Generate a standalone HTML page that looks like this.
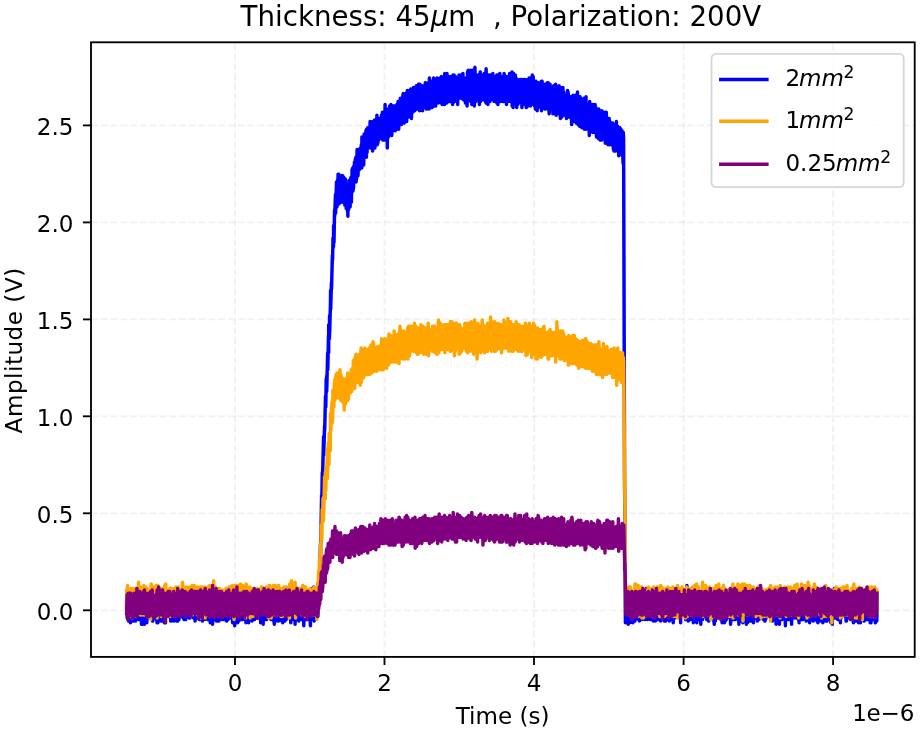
<!DOCTYPE html>
<html><head><meta charset="utf-8"><title>Thickness: 45μm, Polarization: 200V</title>
<style>html,body{margin:0;padding:0;background:#fff}svg{display:block}</style></head>
<body>
<svg width="920" height="731" viewBox="0 0 920 731">
<rect width="920" height="731" fill="#fff"/>
<g stroke="#b0b0b0" stroke-opacity="0.18" stroke-width="1.85" stroke-dasharray="6.83 2.95" fill="none">
<path d="M235.0 656.9V42.3"/>
<path d="M384.5 656.9V42.3"/>
<path d="M534.0 656.9V42.3"/>
<path d="M683.6 656.9V42.3"/>
<path d="M833.1 656.9V42.3"/>
<path d="M91.0 610.3H914.7"/>
<path d="M91.0 513.3H914.7"/>
<path d="M91.0 416.3H914.7"/>
<path d="M91.0 319.4H914.7"/>
<path d="M91.0 222.4H914.7"/>
<path d="M91.0 125.4H914.7"/>
</g>
<clipPath id="c"><rect x="91.0" y="42.3" width="823.7" height="614.6"/></clipPath>
<g clip-path="url(#c)" fill="none" stroke-width="3.46" stroke-linejoin="round" stroke-linecap="square">
<path stroke="#0000ff" d="M126.6,607.2 126.8,591.6 127.2,618.0 127.5,610.3 127.6,611.8 128.4,593.2 128.5,621.1 128.6,604.1 128.9,616.5 129.5,593.2 129.6,618.0 129.7,590.1 130.4,622.7 130.5,604.1 130.6,602.5 130.7,616.5 130.9,591.6 131.5,602.5 131.6,607.2 131.9,597.8 132.4,621.1 132.5,602.5 132.6,616.5 132.9,596.3 133.5,621.1 133.6,613.4 133.7,599.4 133.8,616.5 134.5,611.8 134.6,610.3 135.2,591.6 135.4,621.1 135.5,614.9 135.6,605.6 136.2,596.3 136.5,616.5 136.5,599.4 136.6,611.8 136.7,588.5 137.1,614.9 137.5,602.5 137.6,613.4 138.0,596.3 138.1,619.6 138.5,605.6 138.6,611.8 138.7,619.6 139.2,599.4 139.5,607.2 139.6,604.1 139.7,618.0 140.4,590.1 140.5,610.3 140.6,614.9 141.2,590.1 141.5,624.2 141.6,610.3 141.7,618.0 142.4,599.4 142.5,610.3 142.6,624.2 143.1,591.6 143.5,611.8 143.6,610.3 143.7,596.3 144.4,624.2 144.5,596.3 144.6,605.6 144.9,619.6 145.0,594.7 145.5,607.2 145.6,608.7 145.7,594.7 145.9,618.0 146.5,614.9 146.6,608.7 146.7,593.2 146.8,622.7 147.6,601.0 147.6,604.1 147.7,599.4 148.4,616.5 148.6,602.5 148.6,604.1 148.7,614.9 149.2,597.8 149.6,605.6 149.6,614.9 150.4,594.7 150.6,594.7 150.6,613.4 150.9,618.0 151.2,594.7 151.6,614.9 151.6,596.3 152.2,591.6 152.4,621.1 152.6,614.9 152.6,597.8 152.8,621.1 153.6,608.7 153.6,601.0 153.9,616.5 154.6,588.5 154.6,601.0 154.8,591.6 155.2,614.9 155.6,596.3 155.6,614.9 156.4,590.1 156.4,619.6 156.6,604.1 156.6,601.0 157.0,622.7 157.6,591.6 157.6,597.8 157.9,622.7 158.6,608.7 158.6,602.5 158.9,593.2 159.2,614.9 159.6,604.1 159.6,611.8 160.2,588.5 160.2,618.0 160.6,596.3 160.6,596.3 161.1,621.1 161.6,618.0 161.6,618.0 161.7,621.1 161.8,596.3 162.6,614.9 162.6,602.5 162.8,611.8 163.5,590.1 163.6,610.3 163.6,608.7 163.7,597.8 164.2,622.7 164.6,616.5 164.6,610.3 165.4,590.1 165.5,622.7 165.6,608.7 165.6,597.8 165.9,596.3 166.0,616.5 166.6,607.2 166.6,601.0 166.7,593.2 167.4,614.9 167.6,597.8 167.6,613.4 168.4,591.6 168.6,601.0 168.6,613.4 169.4,614.9 169.6,594.7 169.6,601.0 170.4,588.5 170.4,618.0 170.6,601.0 170.6,618.0 170.8,621.1 171.6,594.7 171.6,604.1 172.1,614.9 172.3,591.6 172.6,611.8 172.6,608.7 172.9,619.6 173.3,591.6 173.6,596.3 173.6,621.1 174.5,590.1 174.6,594.7 174.6,618.0 174.7,594.7 175.6,594.7 175.6,599.4 176.4,619.6 176.6,593.2 176.6,621.1 177.3,593.2 177.6,610.3 177.6,619.6 177.8,621.1 177.9,594.7 178.6,604.1 178.6,599.4 178.7,596.3 178.9,619.6 179.6,599.4 179.6,613.4 179.9,616.5 179.9,599.4 180.6,613.4 180.6,608.7 181.0,616.5 181.3,593.2 181.6,604.1 181.6,614.9 181.9,616.5 182.0,594.7 182.6,599.4 182.6,607.2 183.2,618.0 183.4,593.2 183.6,613.4 183.6,610.3 184.1,619.6 184.6,593.2 184.6,605.6 184.9,591.6 185.3,614.9 185.6,604.1 185.6,619.6 186.0,594.7 186.6,611.8 186.6,604.1 186.8,614.9 187.1,594.7 187.6,611.8 187.6,613.4 187.9,614.9 188.0,597.8 188.6,607.2 188.6,605.6 189.0,618.0 189.0,594.7 189.6,611.8 189.6,602.5 189.8,596.3 189.9,618.0 190.6,616.5 190.6,601.0 190.8,596.3 191.1,614.9 191.6,605.6 191.6,605.6 191.7,613.4 192.4,590.1 192.6,596.3 192.6,604.1 192.7,616.5 193.0,596.3 193.6,607.2 193.6,618.0 194.5,594.7 194.6,611.8 194.6,605.6 195.1,621.1 195.3,593.2 195.6,611.8 195.6,614.9 195.7,618.0 196.6,591.6 196.6,618.0 197.3,591.6 197.6,602.5 197.6,610.3 198.3,618.0 198.5,591.6 198.6,616.5 198.6,610.3 198.9,597.8 199.2,619.6 199.6,613.4 199.6,604.1 200.5,588.5 200.6,618.0 200.6,593.2 201.4,618.0 201.6,596.3 201.6,607.2 201.8,596.3 202.4,621.1 202.6,599.4 202.6,601.0 202.8,619.6 203.3,591.6 203.6,604.1 203.6,597.8 203.7,619.6 204.4,596.3 204.6,616.5 204.6,608.7 204.7,619.6 205.1,590.1 205.6,613.4 205.6,599.4 205.8,616.5 206.6,610.3 206.6,607.2 206.8,616.5 207.1,594.7 207.6,607.2 207.6,616.5 207.7,619.6 208.2,591.6 208.6,613.4 208.7,613.4 208.9,597.8 209.3,619.6 209.6,601.0 209.7,608.7 210.2,622.7 210.3,597.8 210.6,597.8 210.7,605.6 210.8,621.1 211.0,596.3 211.6,601.0 211.7,593.2 212.6,624.2 212.7,607.2 212.8,596.3 213.3,618.0 213.6,604.1 213.7,610.3 213.9,619.6 214.3,593.2 214.6,599.4 214.7,602.5 214.9,618.0 215.4,593.2 215.6,618.0 215.7,596.3 216.5,621.1 216.6,596.3 216.7,618.0 216.9,619.6 217.2,599.4 217.6,604.1 217.7,597.8 217.8,621.1 218.2,596.3 218.6,602.5 218.7,608.7 219.0,621.1 219.0,597.8 219.6,616.5 219.7,604.1 220.3,610.3 220.5,594.7 220.6,601.0 220.7,602.5 220.9,618.0 221.6,596.3 221.7,618.0 222.2,619.6 222.2,591.6 222.6,610.3 222.7,607.2 222.8,593.2 222.9,613.4 223.6,607.2 223.7,614.9 223.7,619.6 224.3,594.7 224.6,596.3 224.7,616.5 224.8,618.0 225.3,599.4 225.6,607.2 225.7,602.5 226.3,593.2 226.5,621.1 226.6,621.1 226.7,614.9 226.8,596.3 227.2,619.6 227.6,618.0 227.7,610.3 228.0,619.6 228.4,594.7 228.5,604.1 228.6,602.5 228.8,594.7 229.2,613.4 229.5,608.7 229.6,607.2 230.0,618.0 230.2,596.3 230.5,610.3 230.6,608.7 230.8,614.9 231.4,587.0 231.5,614.9 231.6,604.1 231.7,596.3 232.1,618.0 232.5,596.3 232.6,622.7 233.1,594.7 233.5,604.1 233.6,605.6 234.2,621.1 234.3,601.0 234.5,604.1 234.6,599.4 234.7,625.8 235.2,587.0 235.5,605.6 235.6,599.4 236.0,618.0 236.4,594.7 236.5,602.5 236.6,593.2 237.1,614.9 237.5,611.8 237.6,596.3 237.7,622.7 237.9,594.7 238.5,605.6 238.6,594.7 238.7,621.1 239.2,593.2 239.5,608.7 239.6,601.0 240.3,594.7 240.5,619.6 240.6,604.1 241.0,619.6 241.4,590.1 241.5,616.5 241.6,602.5 242.0,599.4 242.3,619.6 242.5,611.8 242.6,605.6 243.0,593.2 243.3,614.9 243.5,604.1 243.6,591.6 244.0,618.0 244.5,613.4 244.6,593.2 245.0,619.6 245.5,591.6 245.6,610.3 245.9,622.7 246.0,596.3 246.5,601.0 246.6,610.3 246.7,614.9 247.5,594.7 247.6,610.3 248.1,618.0 248.6,597.8 248.6,622.7 249.1,599.4 249.6,601.0 249.6,597.8 250.4,619.6 250.5,590.1 250.6,608.7 250.6,611.8 250.7,590.1 251.0,614.9 251.6,597.8 251.6,610.3 252.1,621.1 252.2,596.3 252.6,607.2 252.6,605.6 252.8,596.3 253.1,619.6 253.6,608.7 253.6,616.5 253.9,596.3 254.6,619.6 254.6,604.1 254.8,593.2 255.1,616.5 255.6,611.8 255.6,605.6 255.9,601.0 256.0,618.0 256.6,611.8 256.6,605.6 256.8,618.0 257.5,593.2 257.6,602.5 257.6,605.6 257.8,618.0 258.2,596.3 258.6,611.8 258.6,618.0 259.6,590.1 259.6,596.3 260.2,614.9 260.6,608.7 260.6,622.7 261.4,599.4 261.6,607.2 261.6,614.9 262.2,621.1 262.3,597.8 262.6,608.7 262.6,601.0 263.2,624.2 263.3,594.7 263.6,597.8 263.6,604.1 264.2,590.1 264.4,619.6 264.6,614.9 264.6,607.2 264.8,597.8 265.5,619.6 265.6,611.8 265.6,613.4 266.4,594.7 266.6,618.0 266.6,604.1 266.7,619.6 267.2,594.7 267.6,604.1 267.6,593.2 268.1,616.5 268.6,593.2 268.6,602.5 268.7,596.3 268.9,616.5 269.6,611.8 269.6,608.7 270.4,616.5 270.6,596.3 270.6,607.2 270.7,599.4 270.9,619.6 271.6,611.8 271.6,614.9 271.7,596.3 272.5,618.0 272.6,614.9 272.6,607.2 273.0,619.6 273.3,593.2 273.6,613.4 273.6,616.5 274.3,624.2 274.5,594.7 274.6,604.1 274.6,602.5 274.8,614.9 275.6,599.4 275.6,611.8 275.9,618.0 276.4,593.2 276.6,596.3 276.6,611.8 277.1,593.2 277.6,621.1 277.6,601.0 277.8,597.8 278.5,621.1 278.6,601.0 278.6,599.4 278.8,594.7 279.1,619.6 279.6,596.3 279.6,602.5 279.7,597.8 280.3,618.0 280.6,610.3 280.6,613.4 280.9,618.0 281.2,594.7 281.6,614.9 281.6,610.3 281.8,621.1 282.6,597.8 282.6,618.0 282.7,622.7 282.8,597.8 283.6,613.4 283.6,605.6 283.7,619.6 284.1,596.3 284.6,616.5 284.6,608.7 284.7,593.2 284.8,621.1 285.6,610.3 285.6,614.9 285.8,596.3 286.1,619.6 286.6,602.5 286.6,610.3 287.0,616.5 287.1,596.3 287.6,596.3 287.6,602.5 288.1,591.6 288.6,610.3 288.6,602.5 288.7,596.3 288.9,616.5 289.6,616.5 289.6,604.1 289.8,596.3 290.4,619.6 290.6,596.3 290.6,611.8 290.8,622.7 291.3,599.4 291.6,616.5 291.6,608.7 291.7,596.3 292.0,619.6 292.6,613.4 292.6,613.4 293.0,591.6 293.0,616.5 293.6,604.1 293.6,613.4 293.8,596.3 294.6,607.2 294.6,611.8 295.1,624.2 295.2,591.6 295.6,605.6 295.6,601.0 295.8,597.8 296.2,619.6 296.6,611.8 296.6,597.8 297.0,619.6 297.3,596.3 297.6,601.0 297.6,601.0 297.8,619.6 298.6,591.6 298.6,607.2 298.7,621.1 299.1,596.3 299.6,607.2 299.6,616.5 299.7,593.2 299.8,618.0 300.6,596.3 300.6,616.5 301.1,596.3 301.2,619.6 301.6,616.5 301.6,614.9 302.1,619.6 302.5,594.7 302.6,605.6 302.6,619.6 302.9,599.4 303.6,608.7 303.6,611.8 303.8,625.8 304.1,594.7 304.6,614.9 304.6,613.4 304.8,594.7 305.5,619.6 305.6,611.8 305.6,594.7 306.4,619.6 306.6,610.3 306.6,616.5 307.0,594.7 307.5,619.6 307.6,599.4 307.6,604.1 308.1,597.8 308.2,618.0 308.6,611.8 308.6,618.0 309.4,594.7 309.6,614.9 309.7,607.2 310.4,625.8 310.6,593.2 310.7,610.3 311.1,618.0 311.2,594.7 311.6,618.0 311.7,619.6 311.8,588.5 312.6,593.2 312.7,608.7 312.8,593.2 313.3,614.9 313.6,597.8 313.7,596.3 313.7,587.0 314.2,621.1 314.6,593.2 314.7,594.7 314.7,618.0 315.5,591.6 315.6,597.8 315.7,602.5 316.4,618.0 316.5,596.3 316.6,597.8 316.7,618.0 316.8,596.3 317.6,597.8 317.7,602.5 317.9,616.5 318.4,582.3 318.6,599.4 318.7,587.0 318.7,605.6 319.5,573.0 319.6,583.9 319.7,580.8 320.5,543.5 320.6,556.0 320.7,537.3 320.8,543.5 321.6,495.4 321.7,507.9 322.3,472.2 322.6,483.0 322.7,469.1 322.7,470.6 323.6,436.5 323.7,455.1 324.6,425.6 324.7,430.3 325.5,396.2 325.6,405.5 325.7,403.9 325.8,407.0 326.2,379.1 326.6,386.8 326.7,376.0 326.7,391.5 327.6,355.8 327.7,352.7 327.8,369.8 328.5,335.6 328.6,351.2 328.7,352.7 328.7,324.8 329.5,338.7 329.6,315.5 329.7,332.5 330.5,301.5 330.6,290.6 330.7,309.3 331.4,282.9 331.5,289.1 331.6,286.0 332.4,255.0 332.5,259.6 332.6,259.6 333.0,237.9 333.5,247.2 333.6,225.5 334.0,242.5 334.5,213.1 334.6,210.0 334.7,216.2 335.5,194.5 335.6,213.1 336.5,182.0 336.6,200.7 337.0,206.9 337.4,180.5 337.5,183.6 337.6,196.0 338.1,174.3 338.4,202.2 338.5,186.7 338.6,194.5 338.9,174.3 339.1,203.8 339.5,200.7 339.6,194.5 339.7,202.2 340.0,175.8 340.5,180.5 340.6,185.1 341.0,202.2 341.5,175.8 341.6,182.0 342.0,175.8 342.2,200.7 342.5,185.1 342.6,192.9 342.8,175.8 342.9,202.2 343.5,196.0 343.6,200.7 343.8,177.4 344.5,180.5 344.6,180.5 344.8,205.3 345.4,178.9 345.5,191.3 345.6,194.5 345.8,185.1 346.2,208.4 346.5,188.2 346.6,208.4 347.2,185.1 347.5,211.5 347.5,202.2 347.6,205.3 347.9,216.2 348.0,185.1 348.5,210.0 348.6,194.5 348.9,206.9 349.0,180.5 349.5,203.8 349.6,197.6 350.0,183.6 350.1,206.9 350.6,183.6 350.6,188.2 350.9,177.4 351.4,202.2 351.6,180.5 351.6,194.5 352.1,169.6 352.6,182.0 352.6,185.1 352.7,168.1 352.9,191.3 353.6,186.7 353.6,166.5 353.7,183.6 354.5,161.9 354.6,166.5 354.6,175.8 354.7,182.0 355.4,158.8 355.6,160.3 355.6,171.2 355.9,157.2 356.1,182.0 356.6,174.3 356.6,178.9 357.1,149.5 357.6,169.6 357.6,155.7 358.0,175.8 358.6,151.0 358.6,152.6 359.2,149.5 359.4,169.6 359.6,158.8 359.6,152.6 360.1,168.1 360.3,147.9 360.6,160.3 360.6,152.6 361.2,166.5 361.3,144.8 361.6,155.7 361.6,149.5 361.8,168.1 361.9,137.0 362.6,161.9 362.6,149.5 362.7,137.0 363.0,165.0 363.6,144.8 363.6,158.8 363.7,165.0 364.2,133.9 364.6,141.7 364.6,138.6 364.7,154.1 365.4,135.5 365.6,154.1 365.6,144.8 365.9,130.8 366.4,157.2 366.6,149.5 366.6,129.3 367.0,152.6 367.6,138.6 367.6,137.0 367.7,127.7 368.4,147.9 368.6,144.8 368.6,140.1 369.0,127.7 369.2,146.4 369.6,140.1 369.6,144.8 370.1,121.5 370.6,147.9 370.6,144.8 370.8,147.9 371.1,124.6 371.6,127.7 371.6,133.9 372.1,126.2 372.6,151.0 372.6,135.5 372.8,121.5 372.9,146.4 373.6,140.1 373.6,123.1 373.9,121.5 373.9,143.3 374.6,133.9 374.6,120.0 374.9,147.9 375.6,126.2 375.6,137.0 376.2,123.1 376.5,143.3 376.6,129.3 376.6,133.9 376.9,115.3 377.1,144.8 377.6,133.9 377.6,132.4 377.9,143.3 377.9,121.5 378.6,137.0 378.6,126.2 378.7,140.1 378.9,118.4 379.6,129.3 379.6,123.1 380.4,138.6 380.5,120.0 380.6,120.0 380.6,118.4 380.7,135.5 381.4,115.3 381.6,124.6 381.6,120.0 382.4,112.2 382.6,138.6 382.6,126.2 382.9,140.1 383.5,118.4 383.6,130.8 383.6,133.9 383.7,116.9 384.2,140.1 384.6,116.9 384.6,118.4 384.7,138.6 385.1,104.5 385.6,138.6 385.6,129.3 385.8,110.7 386.6,137.0 386.6,124.6 386.8,109.1 387.3,147.9 387.6,126.2 387.6,124.6 388.4,112.2 388.6,137.0 388.6,118.4 389.0,135.5 389.5,109.1 389.6,132.4 389.6,106.0 390.6,133.9 390.6,129.3 390.9,104.5 391.0,130.8 391.6,109.1 391.6,115.3 391.8,135.5 392.6,110.7 392.6,118.4 393.0,130.8 393.3,106.0 393.6,123.1 393.6,106.0 393.7,129.3 394.6,121.5 394.6,124.6 395.0,106.0 395.1,130.8 395.6,123.1 395.6,123.1 395.8,126.2 396.1,107.6 396.6,124.6 396.6,115.3 396.9,104.5 397.1,129.3 397.6,115.3 397.6,106.0 397.7,123.1 398.1,101.4 398.6,118.4 398.6,112.2 398.7,129.3 399.5,101.4 399.6,109.1 399.6,112.2 399.9,121.5 400.3,98.3 400.6,102.9 400.6,109.1 400.8,99.8 401.5,124.6 401.6,101.4 401.6,118.4 402.0,99.8 402.1,123.1 402.6,116.9 402.6,98.3 403.2,93.6 403.5,118.4 403.6,98.3 403.6,96.7 404.3,123.1 404.5,95.2 404.6,98.3 404.6,104.5 405.0,121.5 405.3,93.6 405.6,99.8 405.6,93.6 406.0,120.0 406.6,112.2 406.6,101.4 406.7,121.5 407.3,90.5 407.6,112.2 407.6,102.9 408.0,98.3 408.1,115.3 408.6,112.2 408.6,96.7 409.3,116.9 409.5,90.5 409.6,98.3 409.6,104.5 409.8,90.5 410.4,113.8 410.6,93.6 410.7,92.1 410.7,88.9 411.5,118.4 411.6,102.9 411.7,113.8 412.2,90.5 412.6,112.2 412.7,90.5 412.8,112.2 413.4,87.4 413.6,99.8 413.7,96.7 413.8,90.5 414.3,110.7 414.6,95.2 414.7,109.1 414.8,110.7 415.3,90.5 415.6,101.4 415.7,106.0 416.3,85.8 416.6,109.1 416.7,107.6 416.9,109.1 417.1,85.8 417.6,90.5 417.7,107.6 417.8,109.1 418.5,84.3 418.6,102.9 418.7,85.8 419.2,84.3 419.5,110.7 419.6,88.9 419.7,93.6 420.0,84.3 420.2,106.0 420.6,106.0 420.7,99.8 421.1,109.1 421.2,85.8 421.6,98.3 421.7,98.3 421.8,85.8 422.6,110.7 422.7,102.9 423.1,88.9 423.6,96.7 423.7,93.6 423.8,85.8 424.3,107.6 424.6,102.9 424.7,102.9 424.8,106.0 425.3,82.7 425.6,88.9 425.7,82.7 426.5,109.1 426.6,104.5 426.7,101.4 427.2,85.8 427.5,107.6 427.6,90.5 427.7,90.5 427.9,101.4 428.4,82.7 428.6,92.1 428.7,93.6 429.1,109.1 429.4,78.1 429.6,90.5 429.7,101.4 429.8,82.7 429.9,104.5 430.6,98.3 430.7,102.9 431.1,82.7 431.5,95.2 431.6,81.2 432.1,107.6 432.5,99.8 432.6,92.1 432.8,82.7 433.5,104.5 433.5,99.8 433.6,78.1 434.4,106.0 434.5,96.7 434.6,101.4 434.8,106.0 435.2,81.2 435.5,90.5 435.6,85.8 435.7,106.0 436.2,79.6 436.5,88.9 436.6,95.2 437.0,101.4 437.0,78.1 437.5,81.2 437.6,90.5 438.1,81.2 438.2,102.9 438.5,82.7 438.6,96.7 438.7,101.4 439.2,82.7 439.5,92.1 439.6,81.2 439.9,101.4 440.0,78.1 440.5,90.5 440.6,81.2 441.0,102.9 441.4,76.5 441.5,82.7 441.6,88.9 441.9,79.6 442.1,104.5 442.5,93.6 442.6,98.3 442.9,101.4 443.4,78.1 443.5,93.6 443.6,102.9 443.9,78.1 444.5,81.2 444.6,104.5 444.7,73.4 445.5,84.3 445.6,84.3 445.7,102.9 445.9,78.1 446.5,82.7 446.6,79.6 446.8,102.9 447.0,73.4 447.5,93.6 447.6,88.9 447.7,78.1 448.0,99.8 448.5,92.1 448.6,95.2 448.8,101.4 449.0,82.7 449.5,98.3 449.6,98.3 449.7,101.4 450.0,76.5 450.5,93.6 450.6,87.4 450.7,101.4 451.1,78.1 451.6,90.5 451.6,95.2 452.3,76.5 452.6,104.5 452.6,84.3 453.0,75.0 453.2,102.9 453.6,101.4 453.6,85.8 454.1,75.0 454.6,101.4 454.6,87.4 455.3,99.8 455.4,76.5 455.6,88.9 455.6,90.5 455.8,93.6 456.0,78.1 456.6,85.8 456.6,79.6 457.2,99.8 457.3,78.1 457.6,79.6 457.6,84.3 457.7,104.5 457.8,79.6 458.6,85.8 458.6,98.3 459.0,75.0 459.6,93.6 459.6,90.5 459.9,96.7 460.2,78.1 460.6,81.2 460.6,79.6 460.9,98.3 461.1,75.0 461.6,85.8 461.6,82.7 461.7,98.3 462.4,76.5 462.6,82.7 462.6,96.7 462.9,73.4 463.3,99.8 463.6,82.7 463.6,92.1 464.2,78.1 464.3,99.8 464.6,84.3 464.6,92.1 464.8,79.6 465.4,102.9 465.6,81.2 465.6,96.7 465.9,78.1 466.1,98.3 466.6,93.6 466.6,95.2 467.1,106.0 467.5,71.9 467.6,87.4 467.6,98.3 468.1,70.3 468.6,92.1 468.6,96.7 469.4,99.8 469.6,79.6 469.6,78.1 470.4,75.0 470.6,101.4 470.6,87.4 470.7,70.3 471.2,99.8 471.6,79.6 471.6,90.5 471.8,104.5 472.3,73.4 472.6,96.7 472.6,79.6 472.7,70.3 473.5,101.4 473.6,85.8 473.6,78.1 474.3,106.0 474.6,99.8 474.6,92.1 474.8,101.4 474.9,67.2 475.6,90.5 475.6,81.2 475.9,101.4 476.5,75.0 476.6,84.3 476.6,95.2 477.0,98.3 477.3,79.6 477.6,88.9 477.6,75.0 478.4,95.2 478.6,82.7 478.6,87.4 479.1,75.0 479.4,104.5 479.6,93.6 479.6,76.5 480.3,71.9 480.4,98.3 480.6,90.5 480.6,101.4 481.3,78.1 481.6,98.3 481.6,96.7 481.9,98.3 482.0,75.0 482.6,93.6 482.6,76.5 482.7,99.8 483.6,82.7 483.6,92.1 483.9,99.8 484.3,73.4 484.6,96.7 484.6,81.2 485.3,78.1 485.6,101.4 485.6,101.4 486.1,102.9 486.1,68.8 486.6,84.3 486.6,88.9 486.9,76.5 487.3,98.3 487.6,87.4 487.6,81.2 487.8,76.5 487.9,104.5 488.6,92.1 488.6,79.6 488.8,75.0 489.2,99.8 489.6,88.9 489.6,90.5 489.8,75.0 490.0,101.4 490.6,88.9 490.6,85.8 490.8,98.3 491.2,75.0 491.6,95.2 491.6,90.5 491.8,75.0 492.5,98.3 492.6,84.3 492.6,92.1 492.7,99.8 492.8,73.4 493.6,95.2 493.6,96.7 494.0,76.5 494.1,101.4 494.6,90.5 494.6,82.7 494.7,79.6 494.8,99.8 495.6,87.4 495.6,93.6 496.1,76.5 496.3,96.7 496.6,95.2 496.6,84.3 496.7,75.0 496.9,102.9 497.6,93.6 497.6,93.6 497.9,104.5 498.1,75.0 498.6,99.8 498.6,82.7 499.3,75.0 499.5,101.4 499.6,90.5 499.6,87.4 499.8,73.4 500.3,101.4 500.6,81.2 500.6,84.3 501.0,99.8 501.2,81.2 501.6,82.7 501.6,82.7 502.0,79.6 502.6,101.4 502.6,99.8 502.7,76.5 503.6,85.8 503.6,85.8 503.9,101.4 504.1,73.4 504.6,81.2 504.6,87.4 504.8,99.8 504.8,78.1 505.6,81.2 505.6,81.2 506.5,104.5 506.6,78.1 506.6,76.5 506.8,101.4 507.6,82.7 507.6,95.2 507.7,101.4 508.3,81.2 508.6,84.3 508.6,85.8 509.1,99.8 509.6,73.4 509.6,79.6 510.3,101.4 510.6,93.6 510.6,98.3 511.1,101.4 511.2,76.5 511.6,84.3 511.6,81.2 512.0,71.9 512.2,106.0 512.6,76.5 512.7,81.2 512.8,78.1 513.1,107.6 513.6,85.8 513.7,73.4 513.8,96.7 514.6,84.3 514.7,102.9 515.3,75.0 515.6,82.7 515.7,81.2 516.1,78.1 516.6,99.8 516.7,87.4 516.7,107.6 517.6,79.6 517.7,92.1 517.8,104.5 518.5,82.7 518.6,85.8 518.7,95.2 518.8,101.4 519.0,81.2 519.6,87.4 519.7,95.2 519.9,101.4 520.1,79.6 520.6,98.3 520.7,85.8 520.8,102.9 521.2,79.6 521.6,88.9 521.7,92.1 521.8,79.6 521.9,107.6 522.6,81.2 522.7,98.3 522.8,81.2 523.3,104.5 523.6,81.2 523.7,85.8 523.8,102.9 524.0,79.6 524.6,82.7 524.7,99.8 524.9,104.5 525.5,84.3 525.6,92.1 525.7,87.4 525.8,79.6 526.2,107.6 526.6,84.3 526.7,101.4 527.3,82.7 527.5,104.5 527.6,99.8 527.7,87.4 528.2,106.0 528.3,79.6 528.6,95.2 528.7,85.8 529.1,78.1 529.2,104.5 529.6,99.8 529.7,96.7 530.2,78.1 530.5,106.0 530.6,90.5 530.7,102.9 531.1,81.2 531.6,96.7 531.7,99.8 531.8,104.5 532.3,75.0 532.5,98.3 532.6,95.2 532.7,102.9 533.2,76.5 533.5,84.3 533.6,93.6 534.0,81.2 534.5,106.0 534.5,99.8 534.6,90.5 534.7,82.7 535.4,109.1 535.5,92.1 535.6,82.7 535.9,81.2 536.2,106.0 536.5,96.7 536.6,92.1 536.9,84.3 537.2,110.7 537.5,92.1 537.6,92.1 538.0,82.7 538.1,107.6 538.5,82.7 538.6,92.1 539.0,84.3 539.2,106.0 539.5,104.5 539.6,98.3 539.7,104.5 539.9,84.3 540.5,84.3 540.6,96.7 541.4,81.2 541.5,110.7 541.6,104.5 542.1,81.2 542.5,106.0 542.6,96.7 542.8,87.4 542.9,106.0 543.5,96.7 543.6,88.9 543.7,84.3 544.0,104.5 544.5,104.5 544.6,85.8 544.8,109.1 544.9,84.3 545.5,88.9 545.6,93.6 545.7,109.1 545.9,85.8 546.5,106.0 546.6,87.4 546.7,104.5 547.2,82.7 547.5,92.1 547.6,95.2 548.2,82.7 548.4,109.1 548.5,95.2 548.6,106.0 549.2,113.8 549.3,87.4 549.5,110.7 549.6,104.5 550.1,84.3 550.5,98.3 550.6,87.4 551.4,104.5 551.5,102.9 551.6,87.4 552.4,109.1 552.6,104.5 552.6,92.1 552.9,113.8 553.1,87.4 553.6,90.5 553.6,106.0 553.7,85.8 553.7,112.2 554.6,93.6 554.6,101.4 555.3,113.8 555.6,84.3 555.6,93.6 556.1,85.8 556.1,115.3 556.6,107.6 556.6,104.5 557.1,87.4 557.4,110.7 557.6,99.8 557.6,110.7 557.7,112.2 558.1,90.5 558.6,98.3 558.6,113.8 559.1,85.8 559.6,88.9 559.6,96.7 560.4,118.4 560.5,88.9 560.6,93.6 560.6,107.6 560.7,87.4 560.9,113.8 561.6,110.7 561.6,109.1 561.9,116.9 561.9,92.1 562.6,98.3 562.6,110.7 562.9,87.4 563.2,112.2 563.6,110.7 563.6,99.8 563.9,92.1 564.3,113.8 564.6,107.6 564.6,107.6 565.0,115.3 565.4,95.2 565.6,104.5 565.6,99.8 566.2,95.2 566.5,118.4 566.6,99.8 566.6,98.3 567.5,115.3 567.6,90.5 567.6,99.8 568.1,92.1 568.2,116.9 568.6,115.3 568.6,95.2 568.9,116.9 569.6,102.9 569.6,107.6 570.1,116.9 570.3,96.7 570.6,102.9 570.6,113.8 570.9,101.4 571.2,118.4 571.6,113.8 571.6,124.6 572.1,96.7 572.6,104.5 572.6,112.2 573.0,95.2 573.4,115.3 573.6,107.6 573.6,107.6 573.7,99.8 574.1,121.5 574.6,107.6 574.6,112.2 574.9,121.5 575.5,95.2 575.6,120.0 575.6,99.8 576.4,123.1 576.5,95.2 576.6,106.0 576.6,101.4 576.8,120.0 577.5,92.1 577.6,104.5 577.6,113.8 577.7,95.2 578.2,124.6 578.6,115.3 578.6,109.1 579.1,124.6 579.4,99.8 579.6,112.2 579.6,126.2 580.0,96.7 580.6,99.8 580.6,109.1 581.2,123.1 581.6,99.8 581.6,126.2 582.0,127.7 582.4,99.8 582.6,107.6 582.6,110.7 583.1,124.6 583.3,101.4 583.6,101.4 583.6,121.5 583.8,98.3 584.4,129.3 584.6,120.0 584.6,109.1 584.9,126.2 585.2,106.0 585.6,109.1 585.6,121.5 586.0,96.7 586.2,129.3 586.6,116.9 586.6,109.1 587.0,104.5 587.3,127.7 587.6,112.2 587.6,104.5 588.2,123.1 588.6,113.8 588.6,127.7 588.7,106.0 589.3,135.5 589.6,113.8 589.6,106.0 589.7,101.4 589.9,130.8 590.6,120.0 590.6,116.9 591.1,127.7 591.2,104.5 591.6,115.3 591.6,120.0 591.7,130.8 592.3,110.7 592.6,113.8 592.6,130.8 592.7,132.4 593.1,104.5 593.6,109.1 593.6,107.6 594.0,106.0 594.0,129.3 594.6,116.9 594.6,112.2 594.8,132.4 595.1,104.5 595.6,129.3 595.6,112.2 595.9,107.6 596.5,137.0 596.6,126.2 596.6,109.1 597.2,133.9 597.6,124.6 597.6,129.3 597.7,112.2 598.4,138.6 598.6,120.0 598.6,121.5 598.8,109.1 598.9,129.3 599.6,115.3 599.6,133.9 600.1,140.1 600.6,112.2 600.6,118.4 600.7,135.5 600.8,112.2 601.6,126.2 601.6,123.1 601.8,140.1 601.8,110.7 602.6,129.3 602.6,127.7 602.8,115.3 602.8,135.5 603.6,133.9 603.6,124.6 603.8,112.2 604.5,138.6 604.6,133.9 604.6,116.9 605.0,112.2 605.3,143.3 605.6,133.9 605.6,123.1 605.8,135.5 606.3,112.2 606.6,129.3 606.6,120.0 606.8,141.7 607.6,137.0 607.6,132.4 608.0,144.8 608.1,118.4 608.6,118.4 608.6,126.2 609.2,118.4 609.4,144.8 609.6,133.9 609.6,140.1 609.9,121.5 610.0,141.7 610.6,135.5 610.6,126.2 610.8,124.6 611.1,144.8 611.6,141.7 611.6,123.1 611.7,144.8 612.6,141.7 612.6,123.1 613.4,149.5 613.6,127.7 613.7,138.6 613.8,124.6 614.0,151.0 614.6,143.3 614.7,135.5 615.5,129.3 615.6,151.0 615.7,140.1 616.4,121.5 616.5,147.9 616.6,144.8 616.7,140.1 616.9,127.7 617.0,146.4 617.6,135.5 617.7,143.3 617.7,126.2 618.6,147.9 618.7,155.7 619.3,129.3 619.6,141.7 619.7,130.8 619.8,149.5 620.0,127.7 620.6,144.8 620.7,154.1 620.8,129.3 621.6,137.0 621.7,132.4 622.0,130.8 622.2,155.7 622.6,147.9 622.7,154.1 623.1,163.4 623.3,132.4 623.6,138.6 623.7,171.2 623.7,169.6 624.6,487.7 624.7,495.4 625.4,622.7 625.6,605.6 625.7,613.4 625.7,614.9 626.6,594.7 626.7,602.5 627.0,594.7 627.2,618.0 627.6,601.0 627.7,607.2 627.8,601.0 628.2,624.2 628.6,611.8 628.7,611.8 628.8,588.5 629.2,618.0 629.6,594.7 629.7,622.7 630.0,594.7 630.6,602.5 630.7,604.1 630.8,596.3 631.2,619.6 631.6,597.8 631.7,610.3 631.9,597.8 632.5,619.6 632.6,601.0 632.7,616.5 632.9,622.7 633.5,596.3 633.6,610.3 633.7,618.0 634.3,621.1 634.4,593.2 634.5,618.0 634.6,605.6 634.9,621.1 635.4,591.6 635.5,610.3 635.6,593.2 636.4,614.9 636.5,597.8 636.6,602.5 637.2,596.3 637.4,616.5 637.5,613.4 637.6,602.5 638.2,591.6 638.3,619.6 638.5,613.4 638.6,611.8 639.2,593.2 639.4,621.1 639.5,608.7 639.6,597.8 640.4,614.9 640.5,604.1 640.6,597.8 640.7,619.6 641.2,591.6 641.5,596.3 641.6,619.6 642.2,591.6 642.5,599.4 642.6,597.8 643.0,618.0 643.2,590.1 643.5,608.7 643.6,604.1 644.2,596.3 644.5,619.6 644.5,608.7 644.6,619.6 645.0,597.8 645.5,599.4 645.6,613.4 646.2,614.9 646.3,588.5 646.5,591.6 646.6,601.0 647.0,596.3 647.1,619.6 647.5,607.2 647.6,619.6 647.7,596.3 648.5,605.6 648.6,593.2 648.8,614.9 649.5,614.9 649.6,602.5 649.9,591.6 650.5,619.6 650.6,602.5 650.9,596.3 651.2,619.6 651.5,605.6 651.6,613.4 651.8,618.0 652.0,599.4 652.5,599.4 652.6,607.2 653.0,593.2 653.3,621.1 653.5,614.9 653.6,611.8 654.2,616.5 654.2,591.6 654.6,607.2 654.6,608.7 655.0,593.2 655.4,621.1 655.6,619.6 655.6,616.5 656.2,601.0 656.3,618.0 656.6,611.8 656.6,611.8 656.7,619.6 657.3,593.2 657.6,610.3 657.6,605.6 658.2,593.2 658.6,619.6 658.6,593.2 659.3,619.6 659.6,608.7 659.6,616.5 659.7,593.2 659.8,619.6 660.6,602.5 660.6,621.1 660.7,596.3 661.6,610.3 661.6,608.7 662.0,618.0 662.2,593.2 662.6,611.8 662.6,613.4 662.9,593.2 663.2,618.0 663.6,610.3 663.6,605.6 664.1,594.7 664.2,621.1 664.6,611.8 664.6,610.3 665.1,618.0 665.4,597.8 665.6,602.5 665.6,601.0 665.8,621.1 665.9,594.7 666.6,599.4 666.6,607.2 666.7,599.4 667.4,619.6 667.6,607.2 667.6,608.7 667.7,618.0 668.1,596.3 668.6,597.8 668.6,601.0 669.2,596.3 669.4,621.1 669.6,607.2 669.6,604.1 670.1,616.5 670.1,594.7 670.6,602.5 670.6,599.4 670.8,597.8 671.3,619.6 671.6,607.2 671.6,611.8 672.2,591.6 672.4,614.9 672.6,613.4 672.6,605.6 673.2,622.7 673.6,596.3 673.6,601.0 673.7,618.0 673.9,593.2 674.6,601.0 674.6,599.4 675.1,618.0 675.4,594.7 675.6,596.3 675.6,607.2 675.8,614.9 675.9,599.4 676.6,608.7 676.6,613.4 676.7,591.6 677.4,616.5 677.6,601.0 677.6,596.3 677.8,616.5 678.2,591.6 678.6,611.8 678.6,607.2 679.2,593.2 679.3,618.0 679.6,614.9 679.6,608.7 679.8,596.3 679.9,618.0 680.6,604.1 680.6,622.7 680.8,591.6 681.6,602.5 681.6,614.9 682.2,594.7 682.6,602.5 682.6,599.4 682.8,594.7 683.1,614.9 683.6,599.4 683.6,601.0 684.3,616.5 684.3,594.7 684.6,605.6 684.6,616.5 685.3,599.4 685.5,619.6 685.6,619.6 685.6,604.1 686.3,591.6 686.5,619.6 686.6,614.9 686.6,597.8 686.9,585.4 687.3,618.0 687.6,610.3 687.6,605.6 688.4,621.1 688.5,593.2 688.6,618.0 688.6,616.5 689.5,593.2 689.6,610.3 689.6,597.8 689.8,591.6 690.1,619.6 690.6,605.6 690.6,601.0 690.8,618.0 691.5,594.7 691.6,597.8 691.6,614.9 691.8,593.2 691.9,618.0 692.6,616.5 692.6,608.7 693.3,593.2 693.3,622.7 693.6,616.5 693.6,591.6 693.8,621.1 694.6,608.7 694.6,616.5 694.8,619.6 695.1,601.0 695.6,613.4 695.6,619.6 695.8,596.3 696.2,621.1 696.6,605.6 696.6,610.3 696.8,622.7 696.9,593.2 697.6,604.1 697.6,614.9 698.0,616.5 698.2,593.2 698.6,604.1 698.6,607.2 698.8,597.8 699.3,619.6 699.6,599.4 699.6,608.7 700.0,618.0 700.2,599.4 700.6,616.5 700.6,608.7 700.8,624.2 701.3,593.2 701.6,596.3 701.6,611.8 701.7,619.6 701.9,593.2 702.6,619.6 702.6,601.0 703.1,618.0 703.4,597.8 703.6,613.4 703.6,601.0 704.1,614.9 704.5,593.2 704.6,613.4 704.6,596.3 705.0,614.9 705.6,602.5 705.6,616.5 705.8,591.6 706.6,591.6 706.6,610.3 706.8,619.6 707.3,596.3 707.6,610.3 707.6,613.4 708.3,596.3 708.5,621.1 708.6,597.8 708.6,614.9 708.8,621.1 709.1,593.2 709.6,602.5 709.6,610.3 710.2,619.6 710.3,593.2 710.6,602.5 710.6,601.0 711.3,594.7 711.6,614.9 711.6,605.6 711.7,599.4 712.5,619.6 712.6,602.5 712.6,610.3 713.0,591.6 713.1,619.6 713.6,596.3 713.6,618.0 714.3,624.2 714.5,591.6 714.6,619.6 714.6,608.7 715.2,594.7 715.3,621.1 715.6,610.3 715.7,607.2 715.7,618.0 716.6,593.2 716.7,608.7 716.8,611.8 717.2,594.7 717.6,611.8 717.7,610.3 718.2,618.0 718.5,596.3 718.6,610.3 718.7,596.3 718.8,614.9 718.9,591.6 719.6,597.8 719.7,605.6 719.9,591.6 720.5,614.9 720.6,605.6 720.7,611.8 720.9,619.6 721.1,593.2 721.6,608.7 721.7,611.8 722.1,622.7 722.2,593.2 722.6,616.5 722.7,602.5 722.9,618.0 723.0,594.7 723.6,601.0 723.7,616.5 724.2,596.3 724.4,622.7 724.6,607.2 724.7,605.6 724.8,596.3 725.3,621.1 725.6,616.5 725.7,597.8 725.7,591.6 726.3,619.6 726.6,616.5 726.7,610.3 727.2,596.3 727.3,613.4 727.6,608.7 727.7,599.4 727.7,591.6 728.0,616.5 728.6,605.6 728.7,597.8 728.8,614.9 729.0,596.3 729.6,613.4 729.7,618.0 729.8,594.7 730.6,624.2 730.7,618.0 731.5,591.6 731.6,619.6 731.7,604.1 732.0,599.4 732.0,616.5 732.6,605.6 732.7,604.1 733.0,597.8 733.5,619.6 733.6,599.4 733.7,613.4 733.8,593.2 733.8,619.6 734.6,605.6 734.7,607.2 734.7,596.3 734.8,619.6 735.5,596.3 735.6,610.3 735.7,616.5 736.2,590.1 736.5,601.0 736.6,604.1 737.0,596.3 737.5,618.0 737.5,597.8 737.6,605.6 737.7,594.7 737.8,619.6 738.5,619.6 738.6,599.4 738.9,624.2 739.0,594.7 739.5,616.5 739.6,614.9 739.8,619.6 740.4,594.7 740.5,601.0 740.6,607.2 740.9,590.1 741.2,621.1 741.5,602.5 741.6,599.4 742.4,619.6 742.5,616.5 742.6,608.7 742.8,622.7 743.5,601.0 743.6,599.4 743.8,616.5 744.3,593.2 744.5,611.8 744.6,610.3 745.0,594.7 745.1,621.1 745.5,616.5 745.6,611.8 746.3,593.2 746.4,624.2 746.5,607.2 746.6,601.0 747.4,593.2 747.5,622.7 747.5,608.7 747.6,608.7 747.7,597.8 747.8,616.5 748.5,611.8 748.6,614.9 748.9,599.4 749.5,619.6 749.6,613.4 749.8,596.3 750.5,621.1 750.6,619.6 750.8,597.8 751.5,610.3 751.6,596.3 752.5,621.1 752.6,614.9 752.7,593.2 753.5,622.7 753.6,616.5 753.8,591.6 753.9,618.0 754.5,605.6 754.6,607.2 755.0,616.5 755.3,596.3 755.6,614.9 755.6,593.2 756.0,618.0 756.4,590.1 756.6,601.0 756.6,596.3 756.9,593.2 757.4,621.1 757.6,605.6 757.6,619.6 757.8,593.2 758.6,597.8 758.6,602.5 759.1,619.6 759.2,594.7 759.6,604.1 759.6,607.2 759.7,618.0 760.3,590.1 760.6,602.5 760.6,605.6 760.8,616.5 761.5,596.3 761.6,601.0 761.6,607.2 761.7,594.7 762.0,618.0 762.6,602.5 762.6,614.9 763.3,619.6 763.6,594.7 763.6,614.9 763.7,596.3 763.8,618.0 764.6,602.5 764.6,611.8 764.9,621.1 765.5,596.3 765.6,602.5 765.6,597.8 765.7,619.6 765.7,596.3 766.6,605.6 766.6,607.2 766.7,591.6 766.9,611.8 767.6,605.6 767.6,616.5 768.2,591.6 768.6,605.6 768.6,597.8 768.9,614.9 769.6,610.3 769.6,613.4 770.1,616.5 770.2,596.3 770.6,605.6 770.6,607.2 770.8,599.4 771.3,618.0 771.6,611.8 771.6,594.7 772.6,621.1 772.6,607.2 772.7,616.5 773.5,597.8 773.6,608.7 773.6,613.4 773.7,594.7 774.3,619.6 774.6,610.3 774.6,614.9 775.4,616.5 775.6,591.6 775.6,610.3 775.8,590.1 776.1,624.2 776.6,611.8 776.6,618.0 776.9,593.2 777.6,613.4 777.6,610.3 777.8,616.5 778.0,593.2 778.6,593.2 778.6,601.0 779.1,593.2 779.4,624.2 779.6,604.1 779.6,602.5 779.8,594.7 780.3,618.0 780.6,616.5 780.6,614.9 781.1,594.7 781.1,619.6 781.6,596.3 781.6,601.0 781.8,596.3 781.9,619.6 782.6,608.7 782.6,597.8 782.9,616.5 783.6,591.6 783.6,608.7 783.9,614.9 784.0,596.3 784.6,610.3 784.6,607.2 784.7,597.8 785.4,625.8 785.6,597.8 785.6,608.7 785.9,590.1 786.4,611.8 786.6,605.6 786.6,602.5 787.1,619.6 787.6,596.3 787.6,594.7 787.9,619.6 788.2,590.1 788.6,611.8 788.6,613.4 789.0,596.3 789.1,619.6 789.6,613.4 789.6,618.0 789.7,619.6 790.2,593.2 790.6,611.8 790.6,611.8 791.3,596.3 791.6,624.2 791.6,618.0 791.7,593.2 792.6,611.8 792.6,601.0 793.3,591.6 793.5,616.5 793.6,601.0 793.6,594.7 794.4,618.0 794.6,616.5 794.6,607.2 794.7,618.0 794.9,596.3 795.6,611.8 795.6,599.4 796.3,597.8 796.4,618.0 796.6,607.2 796.6,614.9 797.0,616.5 797.1,596.3 797.6,601.0 797.6,599.4 798.2,594.7 798.4,619.6 798.6,618.0 798.6,611.8 799.1,622.7 799.3,593.2 799.6,608.7 799.6,597.8 799.8,596.3 800.1,619.6 800.6,596.3 800.6,613.4 801.3,597.8 801.6,608.7 801.6,611.8 802.0,619.6 802.3,594.7 802.6,605.6 802.6,601.0 802.7,593.2 803.0,619.6 803.6,597.8 803.6,610.3 803.9,618.0 804.6,587.0 804.6,597.8 804.9,616.5 805.0,590.1 805.6,614.9 805.6,602.5 805.9,594.7 806.3,621.1 806.6,597.8 806.6,607.2 806.7,618.0 807.2,596.3 807.6,613.4 807.6,616.5 808.0,618.0 808.1,599.4 808.6,604.1 808.6,604.1 809.0,594.7 809.3,618.0 809.6,613.4 809.6,622.7 810.0,594.7 810.6,611.8 810.6,597.8 810.8,614.9 811.6,605.6 811.6,614.9 811.7,619.6 812.0,597.8 812.6,605.6 812.6,602.5 812.8,596.3 813.2,621.1 813.6,599.4 813.6,605.6 814.1,591.6 814.3,619.6 814.6,610.3 814.6,611.8 815.0,593.2 815.2,614.9 815.6,599.4 815.6,613.4 815.8,591.6 816.3,619.6 816.6,608.7 816.7,605.6 816.9,621.1 817.2,596.3 817.6,605.6 817.7,602.5 817.9,622.7 818.3,594.7 818.6,599.4 818.7,594.7 818.9,618.0 819.6,601.0 819.7,594.7 819.8,616.5 820.0,593.2 820.6,614.9 820.7,610.3 820.8,621.1 821.3,597.8 821.6,610.3 821.7,621.1 821.9,591.6 822.6,599.4 822.7,610.3 822.8,622.7 823.2,596.3 823.6,607.2 823.7,604.1 823.8,594.7 823.8,619.6 824.6,614.9 824.7,614.9 824.7,596.3 825.3,618.0 825.6,614.9 825.7,611.8 826.0,621.1 826.2,597.8 826.6,601.0 826.7,614.9 826.8,594.7 827.0,621.1 827.6,611.8 827.7,608.7 827.8,616.5 827.8,597.8 828.6,610.3 828.7,613.4 828.7,597.8 829.5,619.6 829.6,607.2 829.7,601.0 829.8,610.3 830.4,594.7 830.6,604.1 830.7,614.9 830.9,622.7 831.2,596.3 831.6,613.4 831.7,614.9 832.1,591.6 832.3,624.2 832.6,591.6 832.7,616.5 832.7,619.6 832.8,601.0 833.6,611.8 833.7,607.2 833.8,614.9 834.2,588.5 834.6,610.3 834.7,614.9 835.3,618.0 835.4,594.7 835.6,618.0 835.7,610.3 835.8,614.9 836.5,597.8 836.5,605.6 836.6,601.0 836.8,594.7 836.9,614.9 837.5,608.7 837.6,607.2 837.9,619.6 838.0,594.7 838.5,596.3 838.6,599.4 839.1,619.6 839.5,607.2 839.6,599.4 839.7,594.7 840.4,622.7 840.5,616.5 840.6,599.4 840.9,590.1 841.1,618.0 841.5,599.4 841.6,611.8 841.8,614.9 842.3,597.8 842.5,613.4 842.6,599.4 842.9,594.7 843.0,614.9 843.5,601.0 843.6,611.8 843.7,599.4 844.0,614.9 844.5,611.8 844.6,616.5 844.9,596.3 845.5,605.6 845.6,611.8 846.1,621.1 846.4,596.3 846.5,621.1 846.6,599.4 846.7,614.9 847.0,594.7 847.5,610.3 847.6,614.9 847.7,618.0 847.9,596.3 848.5,616.5 848.6,608.7 848.8,618.0 849.5,594.7 849.5,613.4 849.6,591.6 850.2,616.5 850.5,613.4 850.6,616.5 850.7,619.6 851.2,596.3 851.5,613.4 851.6,604.1 851.7,616.5 851.9,593.2 852.5,602.5 852.6,611.8 852.9,597.8 853.4,622.7 853.5,601.0 853.6,599.4 853.7,594.7 854.3,621.1 854.5,599.4 854.6,604.1 855.0,593.2 855.5,621.1 855.5,621.1 855.6,607.2 856.1,594.7 856.4,621.1 856.5,613.4 856.6,616.5 856.9,618.0 857.3,593.2 857.6,610.3 857.6,605.6 858.0,619.6 858.3,597.8 858.6,614.9 858.6,622.7 859.4,596.3 859.6,608.7 859.6,594.7 860.4,622.7 860.6,601.0 860.6,596.3 860.7,614.9 861.2,594.7 861.6,601.0 861.6,614.9 861.7,619.6 862.4,591.6 862.6,608.7 862.6,594.7 862.9,618.0 863.1,591.6 863.6,610.3 863.6,607.2 864.1,621.1 864.5,596.3 864.6,599.4 864.6,610.3 864.9,591.6 865.4,619.6 865.6,614.9 865.6,601.0 865.9,616.5 866.6,594.7 866.6,599.4 867.3,619.6 867.6,608.7 867.6,601.0 867.8,596.3 868.4,619.6 868.6,614.9 868.6,608.7 868.7,618.0 869.2,597.8 869.6,597.8 869.6,611.8 869.8,590.1 870.2,622.7 870.6,610.3 870.6,610.3 871.0,622.7 871.5,594.7 871.6,601.0 871.6,599.4 871.8,596.3 872.2,618.0 872.6,602.5 872.6,605.6 873.2,619.6 873.5,590.1 873.6,608.7 873.6,611.8 873.7,590.1 873.9,619.6 874.6,605.6 874.6,614.9 875.4,622.7 875.5,594.7 875.6,601.0 875.6,599.4 876.4,594.7 876.6,616.5 876.6,618.0 876.7,594.7 876.8,621.1 877.0,604.1"/>
<path stroke="#ffa500" d="M126.6,608.7 126.7,590.1 127.0,613.4 127.5,593.2 127.6,585.4 127.8,611.8 128.5,596.3 128.6,601.0 128.7,591.6 129.5,607.2 129.6,610.3 130.0,590.1 130.3,611.8 130.5,608.7 130.6,608.7 130.7,613.4 131.0,588.5 131.5,597.8 131.6,611.8 131.7,591.6 132.0,618.0 132.5,593.2 132.6,594.7 132.7,614.9 133.1,588.5 133.5,608.7 133.6,601.0 133.9,611.8 134.0,588.5 134.5,599.4 134.6,597.8 134.9,613.4 135.5,588.5 135.5,599.4 135.6,608.7 136.0,590.1 136.3,616.5 136.5,596.3 136.6,597.8 136.7,613.4 136.9,590.1 137.5,610.3 137.6,599.4 138.1,613.4 138.5,582.3 138.5,605.6 138.6,601.0 138.7,610.3 138.8,591.6 139.5,591.6 139.6,593.2 139.7,588.5 140.3,614.9 140.5,588.5 140.6,587.0 141.2,614.9 141.5,604.1 141.6,599.4 141.9,611.8 141.9,590.1 142.5,599.4 142.6,607.2 142.7,596.3 143.5,614.9 143.5,605.6 143.6,597.8 143.8,585.4 143.9,611.8 144.5,596.3 144.6,602.5 144.7,614.9 145.3,591.6 145.5,596.3 145.6,587.0 146.4,605.6 146.5,596.3 146.6,596.3 146.9,610.3 147.2,588.5 147.6,602.5 147.6,610.3 147.7,616.5 147.8,593.2 148.6,608.7 148.6,607.2 148.7,591.6 149.6,594.7 149.6,596.3 150.3,590.1 150.5,616.5 150.6,605.6 150.6,619.6 151.2,583.9 151.6,607.2 151.6,601.0 151.9,593.2 152.1,614.9 152.6,597.8 152.6,599.4 152.7,611.8 153.1,590.1 153.6,593.2 153.6,602.5 153.7,587.0 154.2,614.9 154.6,593.2 154.6,610.3 154.7,590.1 155.2,614.9 155.6,608.7 155.6,601.0 155.8,613.4 156.2,585.4 156.6,605.6 156.6,593.2 156.7,585.4 157.2,618.0 157.6,593.2 157.6,607.2 157.7,613.4 157.9,585.4 158.6,602.5 158.6,588.5 158.7,613.4 159.6,597.8 159.6,605.6 159.7,610.3 160.2,591.6 160.6,596.3 160.6,604.1 161.1,616.5 161.3,588.5 161.6,610.3 161.6,594.7 161.8,588.5 162.3,611.8 162.6,593.2 162.6,594.7 163.1,590.1 163.2,613.4 163.6,593.2 163.6,597.8 164.0,613.4 164.2,593.2 164.6,597.8 164.6,588.5 164.7,585.4 164.9,610.3 165.6,597.8 165.6,591.6 165.7,583.9 166.6,604.1 166.6,605.6 166.7,590.1 167.3,610.3 167.6,597.8 167.6,599.4 167.9,596.3 168.6,614.9 168.6,591.6 168.7,613.4 169.6,601.0 169.6,599.4 169.8,588.5 170.5,616.5 170.6,616.5 170.6,591.6 171.5,613.4 171.6,605.6 171.6,588.5 171.8,614.9 172.6,601.0 172.6,610.3 173.1,591.6 173.6,613.4 173.6,599.4 174.1,610.3 174.3,588.5 174.6,591.6 174.6,596.3 175.4,593.2 175.4,614.9 175.6,596.3 175.6,597.8 175.9,587.0 176.3,613.4 176.6,596.3 176.6,594.7 176.9,611.8 177.3,590.1 177.6,593.2 177.6,602.5 178.2,587.0 178.4,613.4 178.6,605.6 178.6,604.1 178.8,588.5 178.9,611.8 179.6,597.8 179.6,610.3 180.3,591.6 180.6,601.0 180.6,594.7 180.8,613.4 180.9,593.2 181.6,597.8 181.6,590.1 181.7,613.4 182.5,582.3 182.6,588.5 182.6,607.2 182.7,608.7 182.8,590.1 183.6,590.1 183.6,611.8 183.8,587.0 184.6,590.1 184.6,596.3 185.1,608.7 185.4,588.5 185.6,594.7 185.6,591.6 186.3,611.8 186.5,587.0 186.6,596.3 186.6,591.6 186.7,611.8 187.5,590.1 187.6,591.6 187.6,596.3 188.0,590.1 188.3,613.4 188.6,608.7 188.6,610.3 188.8,613.4 189.1,590.1 189.6,602.5 189.6,587.0 190.1,611.8 190.6,601.0 190.6,601.0 190.8,588.5 190.9,613.4 191.6,610.3 191.6,597.8 192.1,585.4 192.4,614.9 192.6,608.7 192.6,608.7 192.9,613.4 193.1,591.6 193.6,605.6 193.6,593.2 194.3,611.8 194.3,585.4 194.6,605.6 194.6,605.6 195.1,587.0 195.4,611.8 195.6,602.5 195.6,599.4 195.8,607.2 196.5,587.0 196.6,591.6 196.6,607.2 196.7,590.1 197.2,608.7 197.6,602.5 197.6,607.2 197.8,614.9 198.4,587.0 198.6,604.1 198.6,611.8 199.1,590.1 199.6,597.8 199.6,591.6 199.7,590.1 200.6,613.4 200.6,597.8 200.8,618.0 201.0,587.0 201.6,591.6 201.6,591.6 201.8,611.8 202.5,587.0 202.6,610.3 202.6,594.7 203.1,590.1 203.2,613.4 203.6,605.6 203.6,601.0 203.7,591.6 204.1,613.4 204.6,597.8 204.6,602.5 204.7,587.0 205.1,618.0 205.6,597.8 205.6,594.7 206.1,610.3 206.3,588.5 206.6,599.4 206.6,593.2 206.7,591.6 207.0,614.9 207.6,593.2 207.6,591.6 207.8,614.9 207.9,587.0 208.6,594.7 208.7,604.1 208.7,590.1 209.5,616.5 209.6,605.6 209.7,594.7 209.7,585.4 210.2,613.4 210.6,588.5 210.7,605.6 210.9,614.9 211.1,587.0 211.6,588.5 211.7,604.1 211.8,610.3 212.3,585.4 212.6,597.8 212.7,594.7 212.7,613.4 212.8,587.0 213.6,593.2 213.7,596.3 213.7,580.8 214.0,613.4 214.6,610.3 214.7,599.4 215.0,587.0 215.3,613.4 215.6,599.4 215.7,596.3 215.8,590.1 216.3,613.4 216.6,601.0 216.7,610.3 216.7,591.6 217.3,613.4 217.6,594.7 217.7,591.6 218.3,611.8 218.6,604.1 218.7,604.1 218.8,613.4 219.0,588.5 219.6,604.1 219.7,599.4 219.7,588.5 220.6,610.3 220.7,597.8 221.1,613.4 221.3,593.2 221.6,604.1 221.7,605.6 221.8,610.3 222.5,591.6 222.6,602.5 222.7,601.0 222.8,590.1 223.0,616.5 223.6,608.7 223.7,607.2 223.8,591.6 224.0,614.9 224.6,594.7 224.7,611.8 224.7,590.1 225.6,607.2 225.7,605.6 225.7,611.8 226.0,588.5 226.6,596.3 226.7,601.0 226.8,588.5 227.0,614.9 227.6,601.0 227.7,599.4 227.8,591.6 228.0,611.8 228.5,605.6 228.6,608.7 229.1,587.0 229.5,602.5 229.6,588.5 230.4,611.8 230.5,593.2 230.6,602.5 231.4,613.4 231.5,591.6 231.5,611.8 231.6,590.1 231.7,610.3 232.4,585.4 232.5,597.8 232.6,596.3 232.7,614.9 233.2,587.0 233.5,614.9 233.6,605.6 233.9,593.2 234.0,619.6 234.5,594.7 234.6,591.6 234.8,616.5 235.4,585.4 235.5,596.3 235.6,614.9 236.5,590.1 236.6,593.2 236.7,614.9 237.5,585.4 237.6,607.2 237.9,585.4 238.5,610.3 238.6,607.2 239.0,611.8 239.1,587.0 239.5,590.1 239.6,610.3 240.4,583.9 240.5,611.8 240.5,605.6 240.6,613.4 240.8,590.1 241.5,608.7 241.6,601.0 241.9,587.0 242.0,611.8 242.5,610.3 242.6,601.0 242.7,585.4 243.2,611.8 243.5,599.4 243.6,607.2 244.0,588.5 244.0,613.4 244.5,602.5 244.6,591.6 245.0,590.1 245.4,613.4 245.5,602.5 245.6,590.1 245.7,618.0 246.1,583.9 246.5,611.8 246.6,585.4 246.7,611.8 247.5,601.0 247.6,599.4 248.2,610.3 248.5,590.1 248.6,599.4 248.6,607.2 249.1,588.5 249.2,614.9 249.6,602.5 249.6,611.8 249.7,587.0 250.2,618.0 250.6,593.2 250.6,607.2 250.7,590.1 250.8,611.8 251.6,597.8 251.6,602.5 251.8,588.5 251.9,613.4 252.6,602.5 252.6,597.8 253.0,616.5 253.4,590.1 253.6,601.0 253.6,594.7 253.7,613.4 254.4,590.1 254.6,601.0 254.6,601.0 254.9,613.4 255.4,590.1 255.6,605.6 255.6,602.5 255.9,593.2 256.2,611.8 256.6,608.7 256.6,607.2 256.9,613.4 257.1,588.5 257.6,602.5 257.6,607.2 257.7,591.6 258.4,614.9 258.6,599.4 258.6,604.1 258.9,590.1 259.0,607.2 259.6,594.7 259.6,597.8 259.7,611.8 260.6,588.5 260.6,597.8 261.4,587.0 261.5,613.4 261.6,591.6 261.6,611.8 262.0,587.0 262.6,608.7 262.6,613.4 262.9,590.1 263.6,604.1 263.6,594.7 263.9,613.4 264.4,593.2 264.6,593.2 264.6,599.4 265.1,588.5 265.3,611.8 265.6,597.8 265.6,599.4 266.2,611.8 266.4,588.5 266.6,597.8 266.6,594.7 266.7,587.0 267.2,614.9 267.6,597.8 267.6,602.5 268.3,588.5 268.4,618.0 268.6,602.5 268.6,601.0 268.7,610.3 268.9,585.4 269.6,594.7 269.6,597.8 269.8,611.8 269.9,585.4 270.6,601.0 270.6,602.5 270.9,588.5 271.2,618.0 271.6,591.6 271.6,610.3 271.9,591.6 272.3,611.8 272.6,601.0 272.6,601.0 273.1,608.7 273.6,585.4 273.6,597.8 274.5,614.9 274.6,588.5 274.6,590.1 274.9,610.3 275.3,585.4 275.6,588.5 275.6,608.7 276.3,588.5 276.6,604.1 276.6,590.1 276.7,614.9 276.8,588.5 277.6,608.7 277.6,594.7 278.1,608.7 278.5,585.4 278.6,587.0 278.6,608.7 278.9,587.0 279.1,611.8 279.6,596.3 279.6,599.4 280.2,588.5 280.3,611.8 280.6,604.1 280.6,602.5 281.1,616.5 281.4,590.1 281.6,610.3 281.6,608.7 282.2,590.1 282.4,616.5 282.6,613.4 282.6,605.6 282.8,588.5 282.9,613.4 283.6,596.3 283.6,605.6 284.0,587.0 284.1,611.8 284.6,601.0 284.6,604.1 284.7,611.8 285.3,587.0 285.6,602.5 285.6,602.5 285.8,607.2 286.4,587.0 286.6,590.1 286.6,604.1 286.7,610.3 286.9,588.5 287.6,610.3 287.6,594.7 287.7,591.6 288.3,611.8 288.6,611.8 288.6,605.6 288.8,616.5 289.1,594.7 289.6,596.3 289.6,618.0 289.7,583.9 290.6,591.6 290.6,611.8 291.5,580.8 291.6,607.2 291.6,601.0 292.0,611.8 292.4,588.5 292.6,590.1 292.6,611.8 292.8,587.0 293.6,610.3 293.6,596.3 294.1,610.3 294.1,588.5 294.6,605.6 294.6,599.4 295.1,613.4 295.1,582.3 295.6,605.6 295.6,618.0 296.0,587.0 296.6,591.6 296.6,605.6 296.8,588.5 297.2,611.8 297.6,604.1 297.6,593.2 298.1,613.4 298.3,591.6 298.6,594.7 298.6,604.1 299.1,590.1 299.6,597.8 299.6,604.1 299.7,608.7 299.8,588.5 300.6,599.4 300.6,610.3 301.2,588.5 301.3,611.8 301.6,594.7 301.6,608.7 301.7,591.6 301.9,614.9 302.6,597.8 302.6,587.0 302.8,585.4 303.5,616.5 303.6,604.1 303.6,593.2 303.9,613.4 304.4,590.1 304.6,611.8 304.6,599.4 305.3,587.0 305.4,616.5 305.6,587.0 305.6,593.2 305.8,588.5 306.1,614.9 306.6,608.7 306.6,601.0 307.2,613.4 307.6,590.1 307.6,605.6 307.9,594.7 308.1,611.8 308.6,608.7 308.6,610.3 308.8,593.2 309.3,613.4 309.6,596.3 309.7,604.1 310.0,588.5 310.2,614.9 310.6,599.4 310.7,610.3 311.0,613.4 311.6,590.1 311.7,591.6 312.4,611.8 312.6,596.3 312.7,593.2 313.2,613.4 313.3,588.5 313.6,607.2 313.7,602.5 314.0,587.0 314.0,614.9 314.6,599.4 314.7,599.4 314.8,588.5 315.1,611.8 315.6,593.2 315.7,599.4 315.8,611.8 315.9,590.1 316.6,610.3 316.7,604.1 316.9,619.6 317.0,591.6 317.6,605.6 317.7,587.0 317.8,605.6 318.5,571.5 318.6,579.2 318.7,590.1 318.8,594.7 319.5,559.1 319.6,571.5 319.7,565.3 319.7,577.7 320.6,543.5 320.7,543.5 320.8,556.0 321.2,524.9 321.6,535.8 321.7,537.3 321.9,538.9 322.2,509.4 322.6,523.4 322.7,507.9 322.7,520.3 323.0,498.6 323.6,520.3 323.7,497.0 323.8,511.0 324.6,476.8 324.7,490.8 325.3,498.6 325.4,472.2 325.6,479.9 325.7,475.3 325.8,490.8 326.2,467.5 326.6,475.3 326.7,473.7 327.5,448.9 327.5,478.4 327.6,450.5 327.7,462.9 327.7,469.1 328.4,442.7 328.6,442.7 328.7,458.2 329.0,464.4 329.2,433.4 329.5,448.9 329.6,441.1 330.3,450.5 330.5,413.2 330.6,427.2 330.9,430.3 331.5,410.1 331.5,422.5 331.6,408.6 332.2,400.8 332.4,422.5 332.5,416.3 332.6,410.1 332.7,417.9 332.9,389.9 333.5,394.6 333.6,394.6 333.9,407.0 334.4,382.2 334.5,391.5 334.6,383.7 334.7,400.8 335.0,379.1 335.5,386.8 335.6,380.6 336.1,374.4 336.2,397.7 336.5,376.0 336.6,386.8 337.2,372.9 337.4,397.7 337.5,376.0 337.6,393.0 337.7,396.2 338.2,372.9 338.5,389.9 338.6,374.4 339.0,372.9 339.5,397.7 339.5,374.4 339.6,396.2 340.0,369.8 340.2,399.3 340.5,380.6 340.6,377.5 340.9,374.4 341.1,400.8 341.5,389.9 341.6,396.2 341.7,400.8 342.0,377.5 342.5,389.9 342.6,382.2 343.2,402.4 343.5,389.9 343.6,400.8 344.0,383.7 344.2,410.1 344.5,388.4 344.6,396.2 344.7,379.1 345.3,403.9 345.5,388.4 345.6,403.9 346.2,383.7 346.5,396.2 346.6,388.4 346.9,399.3 347.0,377.5 347.5,388.4 347.6,400.8 347.7,372.9 348.5,399.3 348.6,394.6 349.4,374.4 349.5,386.8 349.6,383.7 349.8,374.4 350.4,393.0 350.6,380.6 350.6,383.7 350.9,389.9 351.2,369.8 351.6,376.0 351.6,377.5 351.7,391.5 352.5,368.2 352.6,377.5 352.6,376.0 353.2,388.4 353.3,360.5 353.6,371.3 353.6,379.1 353.7,388.4 354.1,371.3 354.6,376.0 354.6,366.7 354.7,388.4 355.1,357.4 355.6,368.2 355.6,376.0 355.7,382.2 355.9,354.3 356.6,366.7 356.6,360.5 357.1,357.4 357.2,382.2 357.6,368.2 357.6,355.8 358.2,382.2 358.6,366.7 358.6,377.5 358.9,380.6 359.6,354.3 359.6,368.2 359.9,357.4 360.2,385.3 360.6,363.6 360.6,362.0 361.1,348.1 361.4,382.2 361.6,358.9 361.6,363.6 361.7,358.9 362.1,379.1 362.6,376.0 362.6,376.0 362.7,349.6 363.6,368.2 363.6,368.2 363.7,377.5 364.3,355.8 364.6,363.6 364.6,355.8 364.7,372.9 364.8,348.1 365.6,363.6 365.6,371.3 366.0,349.6 366.2,374.4 366.6,374.4 366.6,371.3 367.2,351.2 367.5,374.4 367.6,372.9 367.6,355.8 367.9,351.2 368.1,371.3 368.6,363.6 368.6,360.5 368.7,372.9 369.1,348.1 369.6,355.8 369.6,355.8 369.8,374.4 370.0,348.1 370.6,363.6 370.6,366.7 370.9,345.0 371.6,372.9 371.6,362.0 371.9,372.9 372.4,345.0 372.6,368.2 372.6,362.0 373.0,341.8 373.1,366.7 373.6,343.4 373.6,363.6 374.1,348.1 374.6,371.3 374.6,349.6 375.0,368.2 375.6,348.1 375.6,363.6 375.8,348.1 376.5,371.3 376.6,349.6 376.6,371.3 376.9,348.1 377.6,354.3 377.6,352.7 377.8,346.5 378.4,369.8 378.6,349.6 378.6,348.1 379.6,368.2 379.6,358.9 380.0,369.8 380.6,345.0 380.6,357.4 381.2,369.8 381.5,338.7 381.6,349.6 381.6,363.6 381.8,369.8 381.9,343.4 382.6,355.8 382.6,348.1 382.7,343.4 383.3,369.8 383.6,358.9 383.6,357.4 383.9,343.4 384.2,365.1 384.6,360.5 384.6,358.9 384.9,338.7 384.9,366.7 385.6,352.7 385.6,358.9 386.1,345.0 386.6,368.2 386.6,351.2 387.2,343.4 387.3,363.6 387.6,345.0 387.6,343.4 387.9,338.7 388.4,360.5 388.6,343.4 388.6,365.1 388.9,334.1 389.6,360.5 389.6,345.0 390.0,362.0 390.6,335.6 390.6,357.4 391.0,362.0 391.5,337.2 391.6,346.5 391.6,352.7 391.8,341.8 392.0,362.0 392.6,341.8 392.6,355.8 393.1,337.2 393.3,357.4 393.6,348.1 393.6,355.8 394.1,331.0 394.5,362.0 394.6,362.0 394.6,352.7 394.7,337.2 395.3,362.0 395.6,346.5 395.6,346.5 396.0,360.5 396.5,335.6 396.6,340.3 396.6,335.6 396.8,362.0 397.6,354.3 397.6,351.2 397.8,334.1 398.0,358.9 398.6,343.4 398.6,349.6 399.0,363.6 399.4,332.5 399.6,348.1 399.6,337.2 400.0,326.3 400.2,358.9 400.6,345.0 400.6,345.0 400.8,352.7 401.3,331.0 401.6,349.6 401.6,354.3 402.5,334.1 402.5,355.8 402.6,348.1 402.6,334.1 403.1,358.9 403.6,335.6 403.6,354.3 403.8,331.0 404.6,340.3 404.6,332.5 405.1,358.9 405.6,349.6 405.6,337.2 405.7,332.5 406.2,346.5 406.6,334.1 406.6,351.2 407.5,327.9 407.6,335.6 407.6,343.4 408.1,358.9 408.5,327.9 408.6,331.0 408.6,343.4 408.7,326.3 409.5,355.8 409.6,337.2 409.6,343.4 409.9,351.2 410.3,326.3 410.6,341.8 410.7,341.8 410.8,348.1 411.2,327.9 411.6,340.3 411.7,343.4 412.1,351.2 412.2,326.3 412.6,326.3 412.7,332.5 412.8,327.9 413.5,351.2 413.6,340.3 413.7,331.0 413.7,348.1 414.5,323.2 414.6,329.4 414.7,338.7 415.2,329.4 415.5,351.2 415.6,341.8 415.7,334.1 415.8,326.3 416.3,352.7 416.6,345.0 416.7,340.3 417.2,354.3 417.3,331.0 417.6,332.5 417.7,338.7 417.8,327.9 418.0,354.3 418.6,329.4 418.7,334.1 418.9,348.1 419.2,329.4 419.6,348.1 419.7,331.0 420.3,352.7 420.6,337.2 420.7,346.5 421.0,324.8 421.1,351.2 421.6,340.3 421.7,351.2 422.2,326.3 422.6,341.8 422.7,343.4 422.8,326.3 423.0,349.6 423.6,329.4 423.7,345.0 423.7,354.3 424.1,327.9 424.6,334.1 424.7,327.9 425.1,351.2 425.6,327.9 425.7,340.3 426.3,327.9 426.5,354.3 426.6,331.0 426.7,337.2 427.0,329.4 427.3,352.7 427.6,337.2 427.7,337.2 428.2,323.2 428.6,355.8 428.7,334.1 428.7,329.4 429.2,346.5 429.6,340.3 429.7,337.2 429.7,348.1 429.9,331.0 430.6,334.1 430.7,334.1 431.1,345.0 431.2,329.4 431.5,338.7 431.6,340.3 432.3,351.2 432.5,326.3 432.6,329.4 432.7,343.4 432.9,326.3 433.5,327.9 433.6,326.3 433.8,351.2 434.5,326.3 434.6,335.6 435.1,352.7 435.2,327.9 435.5,332.5 435.6,337.2 436.0,329.4 436.0,351.2 436.5,343.4 436.6,345.0 437.1,354.3 437.2,331.0 437.5,346.5 437.6,334.1 437.9,351.2 438.5,320.1 438.5,324.8 438.6,346.5 438.9,352.7 439.2,324.8 439.5,337.2 439.6,332.5 439.7,349.6 440.4,323.2 440.5,341.8 440.6,337.2 440.8,326.3 441.5,349.6 441.5,331.0 441.6,348.1 441.9,329.4 442.5,329.4 442.6,334.1 442.9,348.1 443.3,327.9 443.5,335.6 443.6,346.5 443.8,324.8 444.0,349.6 444.5,331.0 444.6,332.5 444.9,352.7 445.2,324.8 445.5,327.9 445.6,334.1 446.1,324.8 446.2,349.6 446.5,341.8 446.6,326.3 447.0,349.6 447.5,331.0 447.6,326.3 447.8,324.8 447.9,349.6 448.5,341.8 448.6,327.9 448.8,326.3 448.9,345.0 449.5,335.6 449.6,332.5 450.2,351.2 450.4,321.7 450.5,340.3 450.6,338.7 450.9,351.2 451.6,326.3 451.6,327.9 451.8,321.7 451.9,349.6 452.6,349.6 452.6,349.6 453.6,326.3 453.6,334.1 453.7,324.8 454.4,355.8 454.6,324.8 454.6,332.5 454.8,323.2 455.3,351.2 455.6,345.0 455.6,338.7 455.7,348.1 456.5,323.2 456.6,326.3 456.6,324.8 456.7,323.2 456.9,346.5 457.6,332.5 457.6,341.8 457.8,348.1 457.9,332.5 458.6,335.6 458.6,327.9 458.7,326.3 459.2,354.3 459.6,329.4 459.6,326.3 459.7,324.8 460.2,349.6 460.6,332.5 460.6,332.5 460.7,352.7 461.1,327.9 461.6,341.8 461.6,335.6 461.7,351.2 462.4,332.5 462.6,337.2 462.6,329.4 463.0,345.0 463.6,331.0 463.6,338.7 464.0,346.5 464.4,327.9 464.6,329.4 464.6,343.4 464.7,348.1 464.9,323.2 465.6,335.6 465.6,341.8 466.1,323.2 466.4,351.2 466.6,341.8 466.6,337.2 466.7,326.3 466.9,351.2 467.6,349.6 467.6,343.4 467.7,352.7 467.8,326.3 468.6,334.1 468.6,326.3 468.9,323.2 469.2,351.2 469.6,332.5 469.6,338.7 469.8,345.0 469.9,327.9 470.6,345.0 470.6,348.1 471.4,321.7 471.6,346.5 471.6,324.8 472.0,351.2 472.6,338.7 472.6,346.5 473.3,327.9 473.6,354.3 473.6,326.3 474.0,343.4 474.6,331.0 474.6,346.5 474.7,320.1 475.4,351.2 475.6,332.5 475.6,338.7 475.9,351.2 476.3,324.8 476.6,340.3 476.6,327.9 477.1,358.9 477.6,341.8 477.6,332.5 478.0,323.2 478.4,349.6 478.6,326.3 478.6,327.9 479.1,351.2 479.2,326.3 479.6,334.1 479.6,326.3 479.8,343.4 480.6,329.4 480.6,326.3 480.9,352.7 481.6,332.5 481.6,337.2 482.0,349.6 482.2,320.1 482.6,345.0 482.6,343.4 483.1,346.5 483.3,324.8 483.6,334.1 483.6,345.0 484.1,329.4 484.4,351.2 484.6,338.7 484.6,352.7 485.4,327.9 485.6,327.9 485.6,331.0 486.1,326.3 486.1,351.2 486.6,334.1 486.6,337.2 487.3,351.2 487.4,323.2 487.6,343.4 487.6,351.2 488.1,323.2 488.6,332.5 488.6,335.6 488.9,324.8 489.3,348.1 489.6,324.8 489.6,340.3 490.3,348.1 490.6,317.0 490.6,334.1 491.5,324.8 491.6,351.2 491.6,327.9 492.3,349.6 492.5,321.7 492.6,326.3 492.6,348.1 493.3,324.8 493.6,346.5 493.6,338.7 494.3,351.2 494.4,323.2 494.6,334.1 494.6,335.6 494.8,321.7 495.6,351.2 495.6,326.3 495.7,324.8 496.3,348.1 496.6,329.4 496.6,329.4 496.7,349.6 497.6,341.8 497.6,341.8 498.2,323.2 498.3,346.5 498.6,346.5 498.6,341.8 499.0,327.9 499.5,348.1 499.6,338.7 499.6,331.0 500.3,324.8 500.6,349.6 500.6,340.3 501.0,324.8 501.6,352.7 501.6,331.0 501.9,324.8 502.0,349.6 502.6,348.1 502.6,326.3 502.7,345.0 503.5,323.2 503.6,338.7 503.6,337.2 503.7,341.8 503.9,320.1 504.6,340.3 504.6,323.2 505.2,348.1 505.6,338.7 505.6,331.0 506.1,346.5 506.5,323.2 506.6,346.5 506.6,332.5 506.9,348.1 507.3,323.2 507.6,337.2 507.6,332.5 507.9,318.6 508.4,345.0 508.6,337.2 508.6,346.5 508.8,351.2 509.3,321.7 509.6,338.7 509.6,335.6 510.3,348.1 510.6,321.7 510.6,341.8 510.8,324.8 511.3,349.6 511.6,326.3 511.6,343.4 511.9,351.2 512.0,327.9 512.6,340.3 512.7,337.2 513.2,351.2 513.5,324.8 513.6,340.3 513.7,335.6 513.9,324.8 514.4,348.1 514.6,335.6 514.7,331.0 514.7,348.1 514.8,327.9 515.6,334.1 515.7,348.1 516.2,321.7 516.6,334.1 516.7,349.6 517.0,326.3 517.6,340.3 517.7,346.5 518.2,351.2 518.3,329.4 518.6,334.1 518.7,338.7 519.2,324.8 519.3,345.0 519.6,343.4 519.7,338.7 520.0,326.3 520.5,346.5 520.6,335.6 520.7,345.0 520.8,351.2 520.9,331.0 521.6,343.4 521.7,346.5 522.2,351.2 522.3,326.3 522.6,348.1 522.7,349.6 522.7,329.4 523.6,335.6 523.7,349.6 524.2,329.4 524.6,335.6 524.7,343.4 525.0,348.1 525.3,323.2 525.6,324.8 525.7,337.2 526.0,355.8 526.2,326.3 526.6,345.0 526.7,334.1 527.4,326.3 527.5,346.5 527.6,332.5 527.7,354.3 528.1,327.9 528.6,329.4 528.7,345.0 528.9,348.1 529.3,323.2 529.6,343.4 529.7,331.0 530.0,326.3 530.5,351.2 530.6,351.2 530.7,349.6 530.7,351.2 531.2,327.9 531.6,343.4 531.7,345.0 531.8,357.4 532.4,326.3 532.5,331.0 532.6,343.4 533.0,352.7 533.5,323.2 533.5,352.7 533.6,334.1 533.9,354.3 534.2,324.8 534.5,332.5 534.6,337.2 534.7,326.3 534.9,354.3 535.5,332.5 535.6,338.7 536.0,358.9 536.5,331.0 536.6,345.0 537.4,358.9 537.5,327.9 537.5,340.3 537.6,340.3 538.0,332.5 538.3,354.3 538.5,351.2 538.6,340.3 538.8,355.8 539.4,332.5 539.5,343.4 539.6,337.2 539.8,354.3 540.4,329.4 540.5,331.0 540.6,343.4 541.0,357.4 541.4,331.0 541.5,343.4 541.6,343.4 541.7,329.4 542.4,355.8 542.5,331.0 542.6,345.0 543.2,327.9 543.5,354.3 543.6,343.4 543.9,352.7 544.0,326.3 544.5,349.6 544.6,354.3 545.3,332.5 545.5,340.3 545.6,354.3 545.7,335.6 546.5,351.2 546.6,338.7 546.9,332.5 547.3,354.3 547.5,348.1 547.6,352.7 547.7,335.6 548.1,358.9 548.5,346.5 548.6,351.2 548.8,358.9 549.1,331.0 549.5,345.0 549.6,348.1 550.1,329.4 550.2,355.8 550.5,345.0 550.6,337.2 550.9,334.1 551.5,354.3 551.6,334.1 551.8,355.8 552.6,340.3 552.6,341.8 552.7,332.5 553.1,354.3 553.6,340.3 553.6,335.6 554.0,352.7 554.3,332.5 554.6,335.6 554.6,349.6 554.8,355.8 554.9,338.7 555.6,352.7 555.6,352.7 555.7,362.0 555.9,332.5 556.6,349.6 556.6,351.2 556.7,355.8 556.9,321.7 557.6,352.7 557.6,352.7 558.4,331.0 558.6,355.8 558.6,345.0 558.8,334.1 558.9,354.3 559.6,335.6 559.6,341.8 559.9,358.9 560.5,331.0 560.6,354.3 560.6,357.4 560.7,358.9 561.4,335.6 561.6,352.7 561.6,357.4 562.1,332.5 562.6,343.4 562.6,331.0 563.6,358.9 563.6,334.1 564.2,360.5 564.6,340.3 564.6,346.5 564.9,337.2 565.0,360.5 565.6,340.3 565.6,349.6 565.7,337.2 566.3,358.9 566.6,337.2 566.6,358.9 566.7,338.7 567.6,354.3 567.6,355.8 567.8,340.3 568.4,365.1 568.6,365.1 568.6,337.2 568.9,335.6 569.2,360.5 569.6,349.6 569.6,349.6 569.9,363.6 570.5,340.3 570.6,341.8 570.6,354.3 570.8,337.2 571.2,358.9 571.6,357.4 571.6,341.8 571.7,363.6 572.2,340.3 572.6,351.2 572.6,351.2 572.7,335.6 572.9,358.9 573.6,351.2 573.6,354.3 574.1,363.6 574.3,335.6 574.6,357.4 574.6,360.5 575.5,338.7 575.6,354.3 575.6,358.9 575.7,338.7 575.8,360.5 576.6,358.9 576.6,348.1 576.9,365.1 577.1,341.8 577.6,352.7 577.6,340.3 578.2,363.6 578.6,352.7 578.6,345.0 578.8,368.2 579.6,349.6 579.6,349.6 579.9,366.7 580.1,341.8 580.6,352.7 580.6,358.9 580.7,365.1 581.3,341.8 581.6,354.3 581.6,357.4 582.5,340.3 582.6,366.7 582.6,345.0 582.8,366.7 583.6,345.0 583.6,354.3 583.8,346.5 584.3,363.6 584.6,355.8 584.6,348.1 584.7,365.1 585.6,338.7 585.6,368.2 585.7,338.7 586.6,358.9 586.6,358.9 587.3,341.8 587.4,368.2 587.6,351.2 587.6,366.7 588.1,343.4 588.6,354.3 588.6,362.0 588.8,345.0 588.9,368.2 589.6,365.1 589.6,354.3 589.7,348.1 590.0,368.2 590.6,365.1 590.6,357.4 590.7,368.2 590.8,343.4 591.6,365.1 591.6,348.1 592.3,371.3 592.4,345.0 592.6,355.8 592.6,354.3 593.1,368.2 593.3,346.5 593.6,365.1 593.6,354.3 593.9,371.3 594.0,345.0 594.6,355.8 594.6,351.2 595.2,345.0 595.5,371.3 595.6,365.1 595.6,363.6 596.4,348.1 596.5,374.4 596.6,358.9 596.6,365.1 596.8,345.0 597.5,374.4 597.6,355.8 597.6,363.6 597.9,366.7 598.3,346.5 598.6,363.6 598.6,371.3 598.8,341.8 599.6,358.9 599.6,348.1 600.3,374.4 600.6,371.3 600.6,366.7 600.7,349.6 601.5,369.8 601.6,352.7 601.6,362.0 602.3,368.2 602.5,351.2 602.6,366.7 602.6,377.5 603.4,343.4 603.6,351.2 603.6,349.6 603.9,374.4 604.5,348.1 604.6,352.7 604.6,362.0 604.9,348.1 605.0,371.3 605.6,357.4 605.6,369.8 605.8,372.9 605.8,354.3 606.6,357.4 606.6,374.4 606.9,346.5 607.6,355.8 607.6,360.5 607.7,365.1 608.0,351.2 608.6,354.3 608.6,354.3 609.1,352.7 609.5,372.9 609.6,357.4 609.6,372.9 610.0,354.3 610.6,365.1 610.6,354.3 610.9,349.6 611.1,369.8 611.6,354.3 611.6,351.2 611.9,349.6 612.3,374.4 612.6,368.2 612.6,372.9 612.7,377.5 613.4,352.7 613.6,372.9 613.7,366.7 613.8,374.4 614.1,348.1 614.6,372.9 614.7,362.0 614.7,351.2 614.9,377.5 615.6,363.6 615.7,352.7 615.8,372.9 616.6,354.3 616.7,385.3 617.4,349.6 617.6,376.0 617.7,352.7 617.8,348.1 618.1,374.4 618.6,358.9 618.7,362.0 618.8,355.8 618.9,374.4 619.6,369.8 619.7,371.3 619.8,379.1 619.9,352.7 620.6,372.9 620.7,365.1 620.7,352.7 621.3,382.2 621.6,368.2 621.7,368.2 622.1,374.4 622.5,352.7 622.6,358.9 622.7,368.2 622.8,382.2 623.4,357.4 623.6,363.6 623.7,360.5 624.6,489.2 624.7,476.8 625.6,605.6 625.7,597.8 626.3,588.5 626.6,611.8 626.7,610.3 626.7,611.8 627.0,590.1 627.6,604.1 627.7,599.4 627.8,611.8 628.3,588.5 628.6,597.8 628.7,604.1 628.8,608.7 629.0,587.0 629.6,596.3 629.7,601.0 630.2,614.9 630.3,587.0 630.6,594.7 630.7,602.5 631.3,616.5 631.4,591.6 631.6,596.3 631.7,604.1 631.8,614.9 632.0,591.6 632.6,613.4 632.7,601.0 632.9,591.6 633.0,613.4 633.6,607.2 633.7,594.7 633.8,590.1 634.5,607.2 634.5,594.7 634.6,605.6 635.0,583.9 635.1,610.3 635.5,601.0 635.6,604.1 635.7,583.9 635.9,616.5 636.5,593.2 636.6,602.5 636.9,614.9 637.4,591.6 637.5,597.8 637.6,608.7 638.2,585.4 638.5,616.5 638.6,607.2 638.7,590.1 639.3,608.7 639.5,607.2 639.6,599.4 640.0,614.9 640.5,590.1 640.5,596.3 640.6,607.2 640.7,614.9 641.0,587.0 641.5,605.6 641.6,597.8 641.9,618.0 642.0,587.0 642.5,605.6 642.6,596.3 643.3,591.6 643.4,618.0 643.5,596.3 643.6,591.6 643.8,614.9 643.9,590.1 644.5,608.7 644.6,607.2 644.7,616.5 644.7,590.1 645.5,596.3 645.6,602.5 645.7,610.3 645.9,591.6 646.5,605.6 646.6,608.7 647.0,610.3 647.1,593.2 647.5,602.5 647.6,614.9 648.2,587.0 648.5,588.5 648.6,593.2 648.7,613.4 648.9,591.6 649.5,601.0 649.6,601.0 649.8,593.2 650.5,607.2 650.6,599.4 651.1,614.9 651.4,588.5 651.5,597.8 651.6,604.1 651.9,590.1 652.5,613.4 652.5,594.7 652.6,604.1 653.0,616.5 653.5,588.5 653.6,588.5 653.9,587.0 654.4,616.5 654.6,591.6 654.6,597.8 654.8,613.4 655.3,588.5 655.6,602.5 655.6,608.7 655.7,613.4 655.9,594.7 656.6,601.0 656.6,596.3 657.4,587.0 657.5,613.4 657.6,605.6 657.6,594.7 658.0,611.8 658.6,587.0 658.6,599.4 659.0,587.0 659.6,616.5 659.6,599.4 659.7,611.8 659.9,588.5 660.6,608.7 660.6,599.4 660.7,585.4 660.9,616.5 661.6,601.0 661.6,613.4 661.9,587.0 662.6,602.5 662.6,613.4 663.2,588.5 663.6,596.3 663.6,596.3 664.2,590.1 664.4,616.5 664.6,605.6 664.6,610.3 664.9,614.9 665.1,591.6 665.6,593.2 665.6,608.7 666.2,588.5 666.4,611.8 666.6,608.7 666.6,608.7 666.8,614.9 667.2,593.2 667.6,607.2 667.6,610.3 667.8,613.4 667.9,587.0 668.6,599.4 668.6,588.5 669.4,611.8 669.6,599.4 669.6,596.3 669.7,610.3 670.3,588.5 670.6,596.3 670.6,614.9 670.9,597.8 671.6,597.8 671.6,599.4 671.9,611.8 672.3,590.1 672.6,604.1 672.6,597.8 672.8,587.0 673.1,616.5 673.6,608.7 673.6,596.3 673.7,588.5 673.9,610.3 674.6,594.7 674.6,611.8 674.7,588.5 675.4,616.5 675.6,602.5 675.6,599.4 676.4,616.5 676.6,591.6 676.6,597.8 676.8,610.3 677.5,588.5 677.6,602.5 677.6,585.4 677.8,618.0 678.6,597.8 678.6,614.9 679.4,590.1 679.6,607.2 679.6,605.6 679.7,588.5 680.5,616.5 680.6,605.6 680.6,596.3 681.2,614.9 681.3,591.6 681.6,594.7 681.6,610.3 681.8,614.9 682.1,587.0 682.6,590.1 682.6,607.2 683.0,616.5 683.2,590.1 683.6,608.7 683.6,613.4 683.9,590.1 684.6,608.7 684.6,597.8 684.9,590.1 685.4,618.0 685.6,590.1 685.6,597.8 685.8,613.4 686.5,587.0 686.6,596.3 686.6,594.7 687.2,590.1 687.4,616.5 687.6,608.7 687.6,604.1 687.8,613.4 688.4,590.1 688.6,596.3 688.6,594.7 688.9,588.5 689.4,613.4 689.6,599.4 689.6,590.1 690.4,611.8 690.6,593.2 690.6,613.4 690.7,588.5 690.8,614.9 691.6,591.6 691.6,604.1 692.3,611.8 692.5,587.0 692.6,611.8 692.6,599.4 692.7,587.0 693.4,608.7 693.6,601.0 693.6,611.8 694.0,613.4 694.1,587.0 694.6,611.8 694.6,591.6 694.8,585.4 694.9,613.4 695.6,608.7 695.6,605.6 695.8,611.8 696.6,583.9 696.6,596.3 697.3,588.5 697.5,610.3 697.6,610.3 697.6,591.6 697.9,608.7 698.6,587.0 698.6,597.8 698.8,611.8 698.8,591.6 699.6,596.3 699.6,608.7 699.9,593.2 700.1,614.9 700.6,593.2 700.6,599.4 700.8,593.2 701.3,614.9 701.6,610.3 701.6,591.6 702.3,616.5 702.6,608.7 702.6,582.3 703.1,614.9 703.6,599.4 703.6,593.2 704.5,587.0 704.6,610.3 704.6,605.6 704.7,616.5 705.5,585.4 705.6,597.8 705.6,593.2 706.1,587.0 706.5,611.8 706.6,601.0 706.6,611.8 707.2,591.6 707.6,597.8 707.6,596.3 707.8,614.9 708.3,588.5 708.6,604.1 708.6,607.2 709.4,587.0 709.5,613.4 709.6,607.2 709.6,601.0 710.3,591.6 710.6,614.9 710.6,602.5 710.8,588.5 710.9,619.6 711.6,596.3 711.6,601.0 711.8,618.0 712.3,588.5 712.6,602.5 712.6,607.2 713.1,590.1 713.3,616.5 713.6,590.1 713.6,602.5 713.7,614.9 713.8,588.5 714.6,602.5 714.6,601.0 714.8,616.5 715.5,588.5 715.6,593.2 715.7,607.2 715.9,613.4 716.1,585.4 716.6,601.0 716.7,601.0 717.0,587.0 717.5,610.3 717.6,588.5 717.7,597.8 718.2,611.8 718.5,588.5 718.6,597.8 718.7,583.9 719.0,616.5 719.6,591.6 719.7,608.7 720.2,618.0 720.6,588.5 720.7,599.4 721.1,588.5 721.3,616.5 721.6,590.1 721.7,599.4 722.3,613.4 722.6,588.5 722.7,605.6 722.8,613.4 723.5,585.4 723.6,602.5 723.7,602.5 724.1,610.3 724.6,588.5 724.7,588.5 725.2,613.4 725.6,593.2 725.7,594.7 725.7,611.8 726.3,590.1 726.6,604.1 726.7,596.3 726.7,590.1 726.9,613.4 727.6,607.2 727.7,605.6 728.1,591.6 728.4,616.5 728.6,607.2 728.7,597.8 728.8,590.1 729.3,613.4 729.6,608.7 729.7,594.7 729.7,590.1 730.2,611.8 730.6,608.7 730.7,597.8 730.8,616.5 731.1,588.5 731.6,596.3 731.7,597.8 732.2,608.7 732.5,588.5 732.6,604.1 732.7,602.5 732.9,583.9 733.1,618.0 733.6,593.2 733.7,596.3 733.7,608.7 734.6,608.7 734.7,601.0 735.0,613.4 735.4,594.7 735.5,596.3 735.6,597.8 736.0,608.7 736.2,587.0 736.5,601.0 736.6,610.3 736.7,588.5 737.2,613.4 737.5,596.3 737.6,593.2 737.9,583.9 738.1,614.9 738.5,596.3 738.6,590.1 739.1,613.4 739.5,597.8 739.6,602.5 739.7,613.4 739.8,585.4 740.5,610.3 740.6,590.1 740.7,614.9 741.5,597.8 741.6,599.4 741.9,610.3 742.4,583.9 742.5,605.6 742.6,610.3 743.0,621.1 743.2,593.2 743.5,601.0 743.6,614.9 744.4,583.9 744.5,601.0 744.6,593.2 744.7,607.2 744.7,588.5 745.5,604.1 745.6,607.2 745.9,585.4 746.3,610.3 746.5,601.0 746.6,597.8 746.9,585.4 747.2,614.9 747.5,591.6 747.6,594.7 747.7,590.1 747.9,611.8 748.5,590.1 748.6,608.7 748.9,590.1 749.5,610.3 749.5,601.0 749.6,602.5 749.7,585.4 750.1,613.4 750.5,590.1 750.6,597.8 750.7,613.4 751.4,587.0 751.5,594.7 751.6,596.3 751.7,610.3 752.1,591.6 752.5,608.7 752.6,593.2 753.4,611.8 753.4,587.0 753.5,602.5 753.6,613.4 753.9,591.6 753.9,614.9 754.5,608.7 754.6,604.1 754.7,611.8 755.2,590.1 755.6,608.7 755.6,591.6 755.9,616.5 756.0,590.1 756.6,611.8 756.6,597.8 756.7,591.6 757.1,610.3 757.6,602.5 757.6,596.3 758.1,614.9 758.3,587.0 758.6,613.4 758.6,602.5 759.4,613.4 759.5,585.4 759.6,593.2 759.6,599.4 759.7,590.1 760.2,614.9 760.6,590.1 760.6,596.3 761.1,618.0 761.4,588.5 761.6,605.6 761.6,588.5 762.6,614.9 762.6,608.7 762.9,614.9 763.2,590.1 763.6,590.1 763.6,604.1 763.7,591.6 764.4,616.5 764.6,593.2 764.6,607.2 764.8,610.3 765.5,590.1 765.6,608.7 765.6,602.5 766.0,611.8 766.2,591.6 766.6,611.8 766.6,607.2 766.9,590.1 767.6,616.5 767.6,607.2 767.9,613.4 768.4,590.1 768.6,590.1 768.6,599.4 768.7,588.5 769.1,608.7 769.6,605.6 769.6,608.7 769.9,587.0 770.5,621.1 770.6,590.1 770.6,604.1 770.7,585.4 771.4,610.3 771.6,604.1 771.6,601.0 771.8,610.3 772.2,588.5 772.6,596.3 772.6,616.5 773.1,591.6 773.6,604.1 773.6,607.2 773.9,590.1 774.2,611.8 774.6,596.3 774.6,608.7 774.9,613.4 775.1,587.0 775.6,601.0 775.6,594.7 775.8,613.4 775.9,591.6 776.6,599.4 776.6,607.2 776.7,588.5 776.9,614.9 777.6,597.8 777.6,608.7 778.0,610.3 778.1,587.0 778.6,610.3 778.6,597.8 778.9,593.2 779.1,613.4 779.6,597.8 779.6,596.3 780.1,618.0 780.3,585.4 780.6,608.7 780.6,605.6 780.7,588.5 781.3,614.9 781.6,597.8 781.6,607.2 781.8,610.3 782.1,588.5 782.6,605.6 782.6,601.0 782.9,588.5 783.3,613.4 783.6,590.1 783.6,593.2 783.7,588.5 783.8,611.8 784.6,594.7 784.6,593.2 785.0,613.4 785.1,587.0 785.6,613.4 785.6,594.7 786.2,616.5 786.6,590.1 786.6,608.7 787.1,613.4 787.6,590.1 787.6,605.6 787.8,611.8 787.9,587.0 788.6,599.4 788.6,599.4 788.9,593.2 789.0,614.9 789.6,604.1 789.6,597.8 790.1,613.4 790.3,587.0 790.6,599.4 790.6,597.8 790.8,590.1 791.6,614.9 791.6,602.5 792.4,613.4 792.4,588.5 792.6,594.7 792.6,604.1 792.8,613.4 793.6,588.5 793.6,607.2 794.1,613.4 794.5,593.2 794.6,605.6 794.6,597.8 794.8,585.4 795.0,610.3 795.6,604.1 795.6,597.8 796.3,614.9 796.3,585.4 796.6,610.3 796.6,588.5 796.7,614.9 797.1,583.9 797.6,599.4 797.6,599.4 798.0,591.6 798.6,618.0 798.6,602.5 798.8,613.4 798.8,588.5 799.6,597.8 799.6,605.6 799.8,591.6 800.2,610.3 800.6,593.2 800.6,608.7 800.9,590.1 801.0,613.4 801.6,597.8 801.6,604.1 801.7,583.9 802.0,610.3 802.6,602.5 802.6,599.4 803.3,608.7 803.5,588.5 803.6,607.2 803.6,593.2 804.0,611.8 804.4,590.1 804.6,604.1 804.6,605.6 804.8,585.4 805.0,610.3 805.6,590.1 805.6,601.0 805.8,587.0 806.1,608.7 806.6,604.1 806.6,608.7 807.0,588.5 807.0,618.0 807.6,599.4 807.6,596.3 808.1,614.9 808.1,582.3 808.6,601.0 808.6,597.8 808.8,614.9 809.0,585.4 809.6,594.7 809.6,605.6 810.2,614.9 810.3,588.5 810.6,597.8 810.6,608.7 810.7,616.5 810.8,588.5 811.6,608.7 811.6,597.8 812.0,594.7 812.1,611.8 812.6,594.7 812.6,593.2 813.5,610.3 813.5,587.0 813.6,599.4 813.6,599.4 813.7,614.9 814.3,583.9 814.6,597.8 814.6,601.0 815.5,613.4 815.5,591.6 815.6,597.8 815.6,605.6 816.2,611.8 816.3,587.0 816.6,597.8 816.7,594.7 817.2,588.5 817.6,608.7 817.7,597.8 817.8,611.8 818.2,593.2 818.6,608.7 818.7,599.4 819.3,610.3 819.4,590.1 819.6,601.0 819.7,608.7 820.0,614.9 820.2,591.6 820.6,594.7 820.7,588.5 821.6,618.0 821.7,613.4 821.7,590.1 822.3,614.9 822.6,602.5 822.7,611.8 823.2,590.1 823.6,593.2 823.7,602.5 824.0,588.5 824.6,616.5 824.7,608.7 824.8,590.1 824.9,610.3 825.6,602.5 825.7,605.6 825.7,585.4 826.4,616.5 826.6,605.6 826.7,594.7 826.7,590.1 827.0,614.9 827.6,607.2 827.7,597.8 827.9,608.7 828.3,588.5 828.6,596.3 828.7,605.6 828.8,616.5 829.3,591.6 829.6,596.3 829.7,591.6 829.9,613.4 830.6,599.4 830.7,593.2 831.0,610.3 831.2,591.6 831.6,608.7 831.7,604.1 831.8,622.7 832.2,593.2 832.6,607.2 832.7,610.3 832.8,613.4 833.3,590.1 833.6,599.4 833.7,614.9 834.3,590.1 834.6,608.7 834.7,594.7 835.3,613.4 835.5,588.5 835.6,610.3 835.7,607.2 836.1,587.0 836.2,608.7 836.5,593.2 836.6,599.4 836.7,590.1 837.2,611.8 837.5,590.1 837.6,597.8 838.0,610.3 838.5,588.5 838.6,604.1 839.0,616.5 839.4,590.1 839.5,602.5 839.6,591.6 840.2,590.1 840.3,618.0 840.5,611.8 840.6,613.4 840.7,588.5 841.5,590.1 841.6,596.3 841.7,588.5 842.0,605.6 842.5,597.8 842.6,605.6 842.8,616.5 843.1,587.0 843.5,608.7 843.6,610.3 844.4,588.5 844.5,607.2 844.6,605.6 844.8,587.0 845.3,614.9 845.5,593.2 845.6,594.7 846.2,610.3 846.4,590.1 846.5,594.7 846.6,613.4 847.1,585.4 847.5,599.4 847.6,590.1 847.8,614.9 848.5,596.3 848.6,593.2 849.0,610.3 849.0,591.6 849.5,594.7 849.6,593.2 849.8,611.8 850.5,597.8 850.6,599.4 850.9,611.8 851.5,588.5 851.6,591.6 852.5,618.0 852.6,597.8 853.2,587.0 853.4,618.0 853.5,591.6 853.6,611.8 853.9,583.9 854.5,605.6 854.6,591.6 854.8,613.4 854.9,590.1 855.5,601.0 855.6,596.3 856.3,618.0 856.5,588.5 856.5,604.1 856.6,594.7 856.9,593.2 857.3,614.9 857.6,594.7 857.6,605.6 857.9,590.1 858.2,618.0 858.6,605.6 858.6,593.2 858.9,588.5 859.1,611.8 859.6,607.2 859.6,587.0 860.2,614.9 860.6,608.7 860.6,607.2 860.9,613.4 861.4,591.6 861.6,599.4 861.6,591.6 861.7,588.5 862.4,619.6 862.6,610.3 862.6,608.7 862.9,591.6 863.0,610.3 863.6,602.5 863.6,591.6 863.9,611.8 864.4,590.1 864.6,591.6 864.6,610.3 865.2,611.8 865.4,591.6 865.6,599.4 865.6,607.2 865.9,593.2 866.1,613.4 866.6,599.4 866.6,588.5 866.9,610.3 867.6,605.6 867.6,593.2 868.0,605.6 868.2,587.0 868.6,605.6 868.6,599.4 868.9,616.5 869.3,588.5 869.6,599.4 869.6,599.4 870.1,590.1 870.2,613.4 870.6,596.3 870.6,602.5 870.8,587.0 871.1,616.5 871.6,602.5 871.6,587.0 871.7,614.9 872.6,602.5 872.6,594.7 872.7,591.6 873.5,616.5 873.6,605.6 873.6,607.2 873.7,588.5 873.9,616.5 874.6,614.9 874.6,607.2 874.7,587.0 874.8,610.3 875.6,596.3 875.6,602.5 875.7,588.5 876.5,611.8 876.6,611.8 876.6,597.8 876.7,611.8 876.9,590.1 877.0,599.4"/>
<path stroke="#800080" d="M126.6,613.4 127.1,594.7 127.2,614.9 127.5,596.3 127.6,607.2 127.9,619.6 128.1,593.2 128.5,611.8 128.6,596.3 129.5,593.2 129.5,613.4 129.6,599.4 129.8,611.8 130.0,597.8 130.5,597.8 130.6,593.2 130.8,614.9 131.5,594.7 131.6,610.3 131.9,594.7 132.2,618.0 132.5,604.1 132.6,601.0 132.8,616.5 133.5,594.7 133.5,607.2 133.6,607.2 133.8,616.5 134.1,593.2 134.5,601.0 134.6,611.8 135.1,597.8 135.2,613.4 135.5,607.2 135.6,596.3 135.9,613.4 136.0,593.2 136.5,596.3 136.6,608.7 136.9,588.5 137.0,616.5 137.5,611.8 137.6,602.5 137.9,610.3 138.2,591.6 138.5,597.8 138.6,594.7 138.9,613.4 139.5,607.2 139.6,605.6 139.9,591.6 140.0,611.8 140.5,601.0 140.6,599.4 141.0,594.7 141.5,613.4 141.5,602.5 141.6,593.2 141.7,607.2 142.5,596.3 142.6,610.3 142.8,594.7 143.0,613.4 143.5,599.4 143.6,591.6 144.4,613.4 144.5,590.1 144.5,602.5 144.6,605.6 144.9,613.4 145.0,594.7 145.5,594.7 145.6,613.4 145.7,593.2 146.5,597.8 146.6,616.5 147.2,596.3 147.6,608.7 147.6,605.6 148.1,614.9 148.6,593.2 148.6,613.4 149.1,616.5 149.2,593.2 149.6,607.2 149.6,593.2 149.9,614.9 150.6,597.8 150.6,604.1 150.7,591.6 151.2,614.9 151.6,604.1 151.6,605.6 151.8,610.3 152.2,590.1 152.6,601.0 152.6,602.5 152.8,596.3 153.0,616.5 153.6,610.3 153.6,611.8 154.0,596.3 154.6,610.3 154.6,605.6 154.9,596.3 155.6,616.5 155.6,605.6 155.7,594.7 156.6,613.4 156.6,599.4 157.2,590.1 157.4,614.9 157.6,610.3 157.6,599.4 157.7,614.9 157.9,591.6 158.6,594.7 158.6,587.0 158.7,614.9 159.6,601.0 159.6,608.7 159.9,590.1 160.2,614.9 160.6,593.2 160.6,596.3 160.8,613.4 161.4,591.6 161.6,602.5 161.6,604.1 162.1,614.9 162.6,590.1 162.6,602.5 162.9,593.2 163.3,614.9 163.6,605.6 163.6,614.9 163.7,616.5 164.2,593.2 164.6,607.2 164.6,602.5 165.1,622.7 165.4,599.4 165.6,613.4 165.6,608.7 166.3,614.9 166.5,593.2 166.6,599.4 166.6,607.2 167.0,593.2 167.1,611.8 167.6,597.8 167.6,593.2 167.9,616.5 168.3,591.6 168.6,599.4 168.6,608.7 168.8,611.8 169.4,594.7 169.6,604.1 169.6,611.8 169.8,591.6 170.1,613.4 170.6,602.5 170.6,594.7 170.9,614.9 171.6,597.8 171.6,597.8 172.0,594.7 172.5,616.5 172.6,604.1 172.6,605.6 173.4,611.8 173.6,591.6 173.6,599.4 173.9,613.4 174.1,594.7 174.6,608.7 174.6,597.8 174.7,616.5 174.8,593.2 175.6,599.4 175.6,594.7 176.1,613.4 176.6,605.6 176.6,611.8 177.0,614.9 177.3,593.2 177.6,604.1 177.6,588.5 177.9,616.5 178.6,599.4 178.6,605.6 178.9,593.2 179.1,616.5 179.6,607.2 179.6,608.7 180.1,591.6 180.3,614.9 180.6,596.3 180.6,601.0 181.1,613.4 181.3,591.6 181.6,605.6 181.6,601.0 181.8,614.9 182.3,590.1 182.6,605.6 182.6,593.2 182.9,591.6 183.0,611.8 183.6,591.6 183.6,604.1 183.8,596.3 184.3,613.4 184.6,599.4 184.6,601.0 185.1,591.6 185.4,616.5 185.6,602.5 185.6,604.1 185.8,613.4 186.6,596.3 186.6,596.3 186.9,608.7 187.6,593.2 187.6,602.5 187.9,613.4 188.1,593.2 188.6,597.8 188.6,602.5 189.1,608.7 189.2,593.2 189.6,608.7 189.6,599.4 190.1,591.6 190.1,613.4 190.6,601.0 190.6,605.6 191.0,616.5 191.5,590.1 191.6,599.4 191.6,601.0 191.8,596.3 192.1,613.4 192.6,601.0 192.6,596.3 192.7,594.7 193.1,613.4 193.6,607.2 193.6,594.7 193.7,611.8 193.8,591.6 194.6,591.6 194.6,597.8 195.0,591.6 195.3,611.8 195.6,601.0 195.6,605.6 195.9,594.7 196.2,613.4 196.6,610.3 196.6,602.5 196.7,608.7 197.1,591.6 197.6,604.1 197.6,594.7 198.0,593.2 198.6,614.9 198.6,607.2 198.9,618.0 199.0,591.6 199.6,611.8 199.6,605.6 200.1,611.8 200.4,590.1 200.6,605.6 200.6,594.7 200.8,590.1 201.2,616.5 201.6,596.3 201.6,604.1 201.9,594.7 202.3,618.0 202.6,594.7 202.6,602.5 203.0,591.6 203.1,611.8 203.6,602.5 203.6,602.5 204.2,596.3 204.5,613.4 204.6,610.3 204.6,601.0 204.8,610.3 205.2,588.5 205.6,599.4 205.6,611.8 206.0,593.2 206.2,614.9 206.6,607.2 206.6,608.7 206.7,596.3 207.5,611.8 207.6,602.5 207.6,601.0 208.2,610.3 208.6,591.6 208.7,593.2 209.3,616.5 209.5,590.1 209.6,613.4 209.7,607.2 209.8,608.7 210.5,591.6 210.6,607.2 210.7,608.7 211.0,591.6 211.3,613.4 211.6,599.4 211.7,616.5 212.6,585.4 212.7,601.0 212.9,614.9 213.5,594.7 213.6,597.8 213.7,596.3 214.2,593.2 214.5,611.8 214.6,602.5 214.7,611.8 214.7,618.0 215.4,593.2 215.6,608.7 215.7,616.5 216.2,588.5 216.6,610.3 216.7,611.8 217.2,591.6 217.6,616.5 217.7,597.8 217.8,613.4 217.9,593.2 218.6,605.6 218.7,599.4 218.9,591.6 219.0,613.4 219.6,599.4 219.7,593.2 219.7,611.8 220.6,604.1 220.7,608.7 220.9,614.9 221.3,591.6 221.6,613.4 221.7,597.8 221.7,618.0 222.3,593.2 222.6,605.6 222.7,602.5 222.9,593.2 223.0,614.9 223.6,604.1 223.7,613.4 223.8,594.7 224.0,616.5 224.6,613.4 224.7,594.7 225.4,614.9 225.5,593.2 225.6,601.0 225.7,602.5 226.3,596.3 226.4,613.4 226.6,607.2 226.7,599.4 226.7,591.6 227.0,611.8 227.6,608.7 227.7,604.1 228.0,594.7 228.4,616.5 228.5,605.6 228.6,611.8 228.7,590.1 229.4,616.5 229.5,610.3 229.6,608.7 229.7,594.7 229.9,616.5 230.5,613.4 230.6,607.2 231.3,594.7 231.4,614.9 231.5,602.5 231.6,608.7 232.1,593.2 232.3,614.9 232.5,613.4 232.6,601.0 232.7,614.9 233.5,590.1 233.6,614.9 233.9,616.5 234.3,591.6 234.5,608.7 234.6,599.4 234.7,594.7 235.0,613.4 235.5,613.4 235.6,610.3 235.8,591.6 236.0,611.8 236.5,604.1 236.6,599.4 236.9,587.0 237.2,616.5 237.5,608.7 237.6,604.1 238.0,594.7 238.4,614.9 238.5,613.4 238.6,614.9 239.5,593.2 239.5,599.4 239.6,596.3 239.7,594.7 239.8,618.0 240.5,599.4 240.6,599.4 240.7,614.9 241.4,593.2 241.5,596.3 241.6,605.6 241.7,614.9 241.9,593.2 242.5,611.8 242.6,610.3 243.0,593.2 243.5,610.3 243.6,608.7 244.0,591.6 244.4,618.0 244.5,608.7 244.6,601.0 244.7,613.4 245.5,594.7 245.6,610.3 246.4,614.9 246.4,591.6 246.5,599.4 246.6,604.1 246.8,591.6 247.4,613.4 247.5,610.3 247.6,611.8 247.7,614.9 248.6,596.3 248.6,601.0 248.7,593.2 249.4,613.4 249.6,607.2 249.6,613.4 250.2,596.3 250.6,607.2 250.6,597.8 250.8,596.3 251.6,613.4 251.6,604.1 251.7,613.4 252.2,591.6 252.6,596.3 252.6,608.7 252.7,613.4 253.2,594.7 253.6,607.2 253.6,596.3 253.7,613.4 254.3,588.5 254.6,596.3 254.6,605.6 255.4,593.2 255.4,614.9 255.6,594.7 255.6,591.6 256.3,614.9 256.6,591.6 256.6,591.6 257.5,590.1 257.6,616.5 257.6,596.3 258.2,618.0 258.5,590.1 258.6,610.3 258.6,613.4 258.8,596.3 259.1,614.9 259.6,601.0 259.6,611.8 259.9,614.9 260.2,594.7 260.6,599.4 260.6,599.4 260.7,593.2 261.3,611.8 261.6,597.8 261.6,594.7 261.7,614.9 262.6,611.8 262.6,613.4 262.7,591.6 263.0,614.9 263.6,610.3 263.6,605.6 263.7,611.8 264.1,588.5 264.6,611.8 264.6,608.7 264.8,590.1 265.3,613.4 265.6,594.7 265.6,607.2 265.7,613.4 266.2,593.2 266.6,594.7 266.6,601.0 266.9,591.6 267.2,616.5 267.6,610.3 267.6,597.8 267.8,614.9 268.2,590.1 268.6,601.0 268.6,597.8 268.7,590.1 269.3,616.5 269.6,593.2 269.6,610.3 269.9,613.4 270.4,591.6 270.6,599.4 270.6,604.1 271.3,614.9 271.6,591.6 271.6,605.6 271.7,614.9 272.1,593.2 272.6,601.0 272.6,611.8 272.8,613.4 273.1,590.1 273.6,611.8 273.6,610.3 273.8,593.2 274.3,611.8 274.6,599.4 274.6,610.3 274.8,593.2 275.2,614.9 275.6,596.3 275.6,608.7 276.0,616.5 276.1,591.6 276.6,613.4 276.6,611.8 276.9,597.8 277.6,613.4 277.6,601.0 277.8,591.6 278.6,613.4 278.6,610.3 279.3,591.6 279.6,605.6 279.6,597.8 279.8,591.6 280.4,614.9 280.6,610.3 280.6,607.2 280.8,596.3 281.3,614.9 281.6,614.9 281.6,604.1 282.0,614.9 282.2,593.2 282.6,610.3 282.6,597.8 283.1,613.4 283.5,591.6 283.6,607.2 283.6,604.1 284.3,591.6 284.5,613.4 284.6,610.3 284.6,601.0 285.4,594.7 285.5,616.5 285.6,607.2 285.6,607.2 285.7,616.5 286.1,590.1 286.6,599.4 286.6,605.6 287.2,591.6 287.3,613.4 287.6,604.1 287.6,607.2 287.8,594.7 287.8,614.9 288.6,602.5 288.6,597.8 289.4,590.1 289.5,614.9 289.6,611.8 289.6,602.5 290.1,593.2 290.3,610.3 290.6,594.7 290.6,607.2 290.9,596.3 291.5,613.4 291.6,597.8 291.6,602.5 292.0,593.2 292.3,614.9 292.6,599.4 292.6,613.4 293.6,591.6 293.6,601.0 294.0,611.8 294.1,593.2 294.6,610.3 294.6,594.7 295.0,591.6 295.0,608.7 295.6,608.7 295.6,599.4 296.0,613.4 296.2,596.3 296.6,610.3 296.6,607.2 297.0,588.5 297.4,611.8 297.6,590.1 297.6,593.2 297.8,614.9 298.6,605.6 298.6,604.1 299.3,611.8 299.4,593.2 299.6,611.8 299.6,602.5 300.0,613.4 300.3,593.2 300.6,613.4 300.6,602.5 300.7,594.7 300.8,613.4 301.6,613.4 301.6,590.1 302.0,613.4 302.6,602.5 302.6,596.3 302.8,616.5 303.6,610.3 303.6,610.3 303.7,594.7 304.4,614.9 304.6,605.6 304.6,604.1 304.9,593.2 305.4,614.9 305.6,608.7 305.6,607.2 305.9,593.2 306.1,614.9 306.6,596.3 306.6,604.1 307.0,619.6 307.1,591.6 307.6,611.8 307.6,596.3 307.9,591.6 308.1,614.9 308.6,597.8 308.6,607.2 308.7,613.4 309.0,596.3 309.6,597.8 309.7,607.2 309.9,614.9 310.4,593.2 310.6,596.3 310.7,597.8 311.0,596.3 311.4,616.5 311.6,611.8 311.7,605.6 312.0,614.9 312.4,593.2 312.6,594.7 312.7,593.2 312.7,613.4 313.6,604.1 313.7,610.3 314.0,591.6 314.2,614.9 314.6,601.0 314.7,608.7 314.7,614.9 315.3,593.2 315.6,607.2 315.7,607.2 316.0,593.2 316.5,611.8 316.6,601.0 316.7,599.4 316.8,593.2 317.3,616.5 317.6,594.7 317.7,601.0 317.8,613.4 317.9,596.3 318.6,596.3 318.7,597.8 318.7,608.7 319.5,587.0 319.6,596.3 319.7,604.1 320.5,582.3 320.6,590.1 320.7,580.8 320.8,599.4 321.2,573.0 321.6,590.1 321.7,577.7 321.9,571.5 322.4,591.6 322.6,576.1 322.7,588.5 323.5,565.3 323.6,566.8 323.7,569.9 323.8,582.3 324.0,557.5 324.6,576.1 324.7,579.2 324.7,556.0 325.2,582.3 325.6,559.1 325.7,563.7 326.5,549.8 326.6,573.0 326.7,551.3 327.2,548.2 327.3,569.9 327.6,565.3 327.7,568.4 328.2,543.5 328.6,559.1 328.7,552.9 329.0,543.5 329.2,562.2 329.5,543.5 329.6,549.8 329.9,562.2 330.0,542.0 330.5,542.0 330.6,549.8 330.9,538.9 331.0,554.4 331.5,538.9 331.6,549.8 332.3,554.4 332.5,531.1 332.6,532.7 332.7,557.5 333.5,534.2 333.6,535.8 333.9,532.7 334.4,552.9 334.5,535.8 334.6,540.4 335.0,526.5 335.1,548.2 335.5,538.9 335.6,532.7 335.7,551.3 336.5,532.7 336.6,531.1 336.7,554.4 337.5,542.0 337.6,545.1 337.9,552.9 338.0,532.7 338.5,538.9 338.6,546.6 338.8,552.9 339.5,534.2 339.6,549.8 339.8,560.6 340.5,535.8 340.6,532.7 341.5,556.0 341.6,548.2 341.7,542.0 342.2,562.2 342.5,546.6 342.6,551.3 342.7,538.9 343.0,557.5 343.5,554.4 343.6,554.4 344.4,535.8 344.5,552.9 344.6,552.9 344.7,554.4 345.4,537.3 345.5,554.4 345.6,545.1 345.7,535.8 346.0,554.4 346.5,538.9 346.6,546.6 346.8,554.4 346.9,538.9 347.5,552.9 347.6,537.3 348.1,556.0 348.4,535.8 348.5,540.4 348.6,557.5 349.0,535.8 349.5,551.3 349.6,543.5 350.0,557.5 350.4,534.2 350.6,549.8 350.6,551.3 350.9,554.4 351.4,531.1 351.6,543.5 351.6,542.0 352.4,552.9 352.6,531.1 352.6,549.8 352.7,531.1 353.5,551.3 353.6,545.1 353.6,534.2 353.7,554.4 354.4,531.1 354.6,534.2 354.6,556.0 355.4,528.0 355.6,545.1 355.6,549.8 355.7,529.6 356.1,551.3 356.6,543.5 356.6,542.0 356.7,532.7 357.4,549.8 357.6,548.2 357.6,540.4 358.0,532.7 358.1,552.9 358.6,549.8 358.6,534.2 358.7,529.6 359.0,554.4 359.6,545.1 359.6,542.0 359.9,529.6 360.2,552.9 360.6,540.4 360.6,528.0 360.8,526.5 361.2,551.3 361.6,535.8 361.6,529.6 361.7,552.9 362.6,532.7 362.6,548.2 362.8,526.5 363.6,540.4 363.6,546.6 364.1,528.0 364.3,551.3 364.6,531.1 364.6,532.7 364.9,528.0 365.4,543.5 365.6,534.2 365.6,543.5 365.7,546.6 365.9,531.1 366.6,540.4 366.6,537.3 366.7,549.8 366.9,529.6 367.6,529.6 367.6,540.4 367.7,552.9 367.7,532.7 368.6,535.8 368.6,545.1 368.7,548.2 369.0,529.6 369.6,540.4 369.6,534.2 369.8,524.9 369.9,545.1 370.6,528.0 370.6,549.8 370.9,529.6 371.6,534.2 371.6,534.2 371.9,528.0 372.3,546.6 372.6,532.7 372.6,535.8 373.0,548.2 373.2,528.0 373.6,528.0 373.6,540.4 373.7,526.5 373.9,546.6 374.6,546.6 374.6,523.4 375.6,546.6 375.6,528.0 375.7,526.5 375.8,549.8 376.6,534.2 376.6,543.5 376.8,526.5 377.1,545.1 377.6,528.0 377.6,531.1 377.8,546.6 378.6,534.2 378.6,538.9 378.8,546.6 379.4,523.4 379.6,534.2 379.6,540.4 380.1,542.0 380.2,524.9 380.6,542.0 380.6,543.5 380.9,518.7 381.6,532.7 381.6,542.0 382.1,528.0 382.1,543.5 382.6,534.2 382.6,526.5 383.1,520.3 383.4,543.5 383.6,543.5 383.6,542.0 383.8,521.8 384.3,543.5 384.6,529.6 384.6,531.1 384.9,538.9 385.3,518.7 385.6,535.8 385.6,520.3 385.8,540.4 386.6,523.4 386.6,537.3 386.9,521.8 387.3,543.5 387.6,523.4 387.6,523.4 387.8,543.5 388.0,520.3 388.6,528.0 388.6,528.0 389.1,545.1 389.3,524.9 389.6,531.1 389.6,532.7 390.4,545.1 390.5,520.3 390.6,521.8 390.6,531.1 391.2,538.9 391.6,521.8 391.6,534.2 391.8,540.4 392.3,518.7 392.6,529.6 392.6,534.2 392.9,523.4 393.0,545.1 393.6,526.5 393.6,538.9 393.9,543.5 394.3,524.9 394.6,537.3 394.6,523.4 395.0,545.1 395.6,538.9 395.6,532.7 395.8,537.3 396.0,520.3 396.6,532.7 396.6,534.2 397.0,542.0 397.3,523.4 397.6,534.2 397.6,542.0 397.9,520.3 398.6,529.6 398.6,523.4 398.8,542.0 399.0,517.2 399.6,518.7 399.6,534.2 399.8,526.5 400.2,542.0 400.6,528.0 400.6,526.5 400.9,521.8 401.2,540.4 401.6,523.4 401.6,526.5 401.8,520.3 402.1,546.6 402.6,532.7 402.6,528.0 402.8,521.8 403.3,545.1 403.6,529.6 403.6,534.2 404.1,521.8 404.3,537.3 404.6,528.0 404.6,532.7 404.7,542.0 405.1,517.2 405.6,531.1 405.6,542.0 406.6,515.6 406.6,526.5 407.1,542.0 407.5,521.8 407.6,528.0 407.6,521.8 407.8,517.2 408.5,537.3 408.6,521.8 408.6,524.9 408.8,521.8 409.5,540.4 409.6,534.2 409.6,537.3 409.8,520.3 410.2,543.5 410.6,523.4 410.7,538.9 410.9,521.8 411.2,543.5 411.6,534.2 411.7,538.9 412.5,543.5 412.6,518.7 412.7,535.8 413.2,518.7 413.5,542.0 413.6,540.4 413.7,540.4 413.7,520.3 414.5,542.0 414.6,523.4 414.7,529.6 415.0,517.2 415.2,548.2 415.6,535.8 415.7,532.7 415.7,542.0 416.0,520.3 416.6,528.0 416.7,546.6 416.9,521.8 417.6,523.4 417.7,534.2 417.9,520.3 418.4,540.4 418.6,534.2 418.7,543.5 419.6,518.7 419.7,529.6 419.8,540.4 419.9,518.7 420.6,526.5 420.7,520.3 420.8,518.7 421.0,542.0 421.6,540.4 421.7,531.1 421.8,543.5 422.1,518.7 422.6,520.3 422.7,526.5 422.8,517.2 423.0,538.9 423.6,535.8 423.7,529.6 424.0,540.4 424.6,517.2 424.7,534.2 424.7,537.3 425.0,515.6 425.6,526.5 425.7,529.6 425.9,538.9 426.3,521.8 426.6,524.9 426.7,540.4 427.5,518.7 427.6,523.4 427.7,537.3 428.0,540.4 428.3,521.8 428.6,532.7 428.7,523.4 428.9,518.7 429.5,543.5 429.6,529.6 429.7,524.9 430.0,540.4 430.1,521.8 430.6,531.1 430.7,542.0 431.2,520.3 431.5,535.8 431.6,532.7 431.8,518.7 432.0,542.0 432.5,534.2 432.6,518.7 432.9,537.3 433.5,537.3 433.6,529.6 433.9,540.4 434.4,518.7 434.5,526.5 434.6,520.3 434.7,517.2 435.5,534.2 435.5,520.3 435.6,526.5 435.7,537.3 436.4,517.2 436.5,524.9 436.6,526.5 437.0,538.9 437.4,521.8 437.5,529.6 437.6,532.7 437.7,543.5 438.2,518.7 438.5,521.8 438.6,523.4 439.2,514.1 439.5,540.4 439.6,524.9 439.8,520.3 440.0,540.4 440.5,540.4 440.6,523.4 440.7,517.2 441.2,537.3 441.5,523.4 441.6,517.2 441.7,542.0 442.5,523.4 442.6,535.8 443.2,517.2 443.5,521.8 443.6,529.6 443.9,538.9 444.5,515.6 444.5,523.4 444.6,523.4 444.7,537.3 445.5,531.1 445.6,532.7 445.9,517.2 446.0,538.9 446.5,529.6 446.6,523.4 447.2,520.3 447.4,535.8 447.5,524.9 447.6,529.6 447.9,540.4 448.5,520.3 448.6,534.2 448.9,517.2 449.3,537.3 449.5,518.7 449.6,515.6 449.7,537.3 450.5,529.6 450.6,517.2 450.7,537.3 451.6,528.0 451.6,526.5 451.8,518.7 451.9,538.9 452.6,521.8 452.6,531.1 453.0,538.9 453.2,512.5 453.6,523.4 453.6,534.2 454.0,537.3 454.3,517.2 454.6,531.1 454.6,529.6 455.2,518.7 455.4,542.0 455.6,518.7 455.6,532.7 455.7,520.3 456.6,542.0 456.6,524.9 456.7,538.9 457.4,514.1 457.6,523.4 457.6,532.7 458.5,537.3 458.6,515.6 458.6,518.7 458.9,537.3 459.2,517.2 459.6,526.5 459.6,535.8 459.7,515.6 460.1,537.3 460.6,524.9 460.6,534.2 460.8,537.3 461.2,517.2 461.6,526.5 461.6,520.3 461.8,537.3 462.6,524.9 462.6,537.3 463.1,538.9 463.6,518.7 463.6,524.9 464.1,520.3 464.4,538.9 464.6,526.5 464.6,526.5 465.1,520.3 465.3,538.9 465.6,529.6 465.6,523.4 465.8,518.7 466.2,540.4 466.6,521.8 466.6,532.7 466.7,535.8 466.9,517.2 467.6,531.1 467.6,528.0 467.9,537.3 468.2,517.2 468.6,517.2 468.6,529.6 468.7,515.6 469.2,537.3 469.6,535.8 469.6,521.8 469.7,538.9 470.1,518.7 470.6,538.9 470.6,537.3 470.7,518.7 471.1,540.4 471.6,529.6 471.6,531.1 471.8,512.5 472.6,528.0 472.6,524.9 472.8,535.8 473.0,520.3 473.6,535.8 473.6,535.8 474.3,520.3 474.4,537.3 474.6,535.8 474.6,524.9 474.8,517.2 475.1,538.9 475.6,531.1 475.6,529.6 475.7,538.9 476.4,520.3 476.6,523.4 476.6,524.9 476.7,518.7 477.6,542.0 477.6,524.9 477.8,523.4 478.1,535.8 478.6,528.0 478.6,517.2 478.8,537.3 479.1,515.6 479.6,529.6 479.6,526.5 479.8,537.3 480.6,517.2 480.6,514.1 481.4,537.3 481.6,521.8 481.6,517.2 482.1,532.7 482.6,524.9 482.6,528.0 483.0,545.1 483.2,518.7 483.6,524.9 483.6,531.1 484.0,520.3 484.6,538.9 484.6,524.9 484.7,515.6 485.3,540.4 485.6,520.3 485.6,518.7 485.8,538.9 485.9,517.2 486.6,534.2 486.6,535.8 487.1,518.7 487.6,520.3 487.6,534.2 488.1,535.8 488.3,517.2 488.6,520.3 488.6,526.5 488.8,517.2 489.4,540.4 489.6,535.8 489.6,523.4 489.9,538.9 490.3,515.6 490.6,538.9 490.6,518.7 490.9,538.9 491.4,517.2 491.6,524.9 491.6,531.1 492.3,517.2 492.5,537.3 492.6,524.9 492.6,528.0 492.7,517.2 493.5,540.4 493.6,523.4 493.6,534.2 494.3,518.7 494.5,542.0 494.6,532.7 494.6,532.7 494.8,515.6 495.3,540.4 495.6,534.2 495.6,528.0 495.7,538.9 496.1,515.6 496.6,523.4 496.6,521.8 497.0,537.3 497.0,517.2 497.6,531.1 497.6,531.1 497.9,538.9 498.6,517.2 498.6,528.0 498.7,521.8 499.5,542.0 499.6,540.4 499.6,529.6 499.8,520.3 500.6,542.0 500.6,534.2 501.0,515.6 501.5,542.0 501.6,532.7 501.6,523.4 501.8,515.6 502.4,542.0 502.6,528.0 502.6,529.6 502.8,534.2 503.6,517.2 503.6,538.9 503.7,521.8 504.6,523.4 504.6,528.0 504.8,538.9 505.1,520.3 505.6,524.9 505.6,531.1 506.2,542.0 506.5,515.6 506.6,542.0 506.6,518.7 507.3,515.6 507.5,542.0 507.6,534.2 507.6,531.1 508.3,540.4 508.4,518.7 508.6,524.9 508.6,521.8 508.7,520.3 508.9,540.4 509.6,524.9 509.6,540.4 510.0,518.7 510.1,545.1 510.6,526.5 510.6,532.7 510.8,518.7 511.6,543.5 511.6,521.8 511.7,538.9 512.6,535.8 512.7,526.5 513.5,542.0 513.6,520.3 513.7,545.1 514.3,518.7 514.6,535.8 514.7,531.1 515.0,514.1 515.2,542.0 515.6,535.8 515.7,521.8 516.6,538.9 516.7,523.4 517.1,538.9 517.2,518.7 517.6,524.9 517.7,528.0 518.3,538.9 518.6,518.7 518.7,537.3 518.8,515.6 519.4,542.0 519.6,535.8 519.7,538.9 519.8,518.7 520.3,540.4 520.6,529.6 520.7,523.4 520.7,515.6 520.8,538.9 521.6,531.1 521.7,523.4 522.3,540.4 522.6,538.9 522.7,521.8 523.5,538.9 523.6,521.8 523.7,518.7 523.9,535.8 524.6,524.9 524.7,515.6 525.2,542.0 525.6,518.7 525.7,534.2 526.2,520.3 526.5,543.5 526.6,520.3 526.7,529.6 526.7,514.1 527.1,540.4 527.6,532.7 527.7,532.7 528.0,542.0 528.3,521.8 528.6,528.0 528.7,518.7 529.3,537.3 529.6,526.5 529.7,534.2 529.7,520.3 530.3,543.5 530.6,521.8 530.7,538.9 531.0,521.8 531.6,528.0 531.7,537.3 532.0,543.5 532.2,518.7 532.5,537.3 532.6,535.8 532.9,538.9 533.2,521.8 533.5,529.6 533.6,521.8 534.2,537.3 534.5,532.7 534.6,535.8 534.7,542.0 535.1,524.9 535.5,531.1 535.6,531.1 536.0,518.7 536.5,540.4 536.5,537.3 536.6,526.5 536.7,518.7 537.5,543.5 537.5,529.6 537.6,524.9 538.1,515.6 538.5,538.9 538.5,535.8 538.6,529.6 538.7,517.2 539.0,540.4 539.5,521.8 539.6,538.9 540.1,540.4 540.5,521.8 540.6,526.5 540.9,537.3 541.2,520.3 541.5,534.2 541.6,523.4 541.7,542.0 541.9,521.8 542.5,537.3 542.6,521.8 542.9,543.5 543.5,529.6 543.6,534.2 544.4,537.3 544.5,518.7 544.6,535.8 545.1,520.3 545.5,540.4 545.6,537.3 546.0,518.7 546.2,540.4 546.5,528.0 546.6,540.4 546.9,523.4 547.5,534.2 547.6,526.5 547.7,517.2 548.3,543.5 548.5,520.3 548.6,537.3 548.8,521.8 549.0,540.4 549.5,528.0 549.6,542.0 549.7,524.9 550.5,538.9 550.6,535.8 550.7,518.7 550.9,540.4 551.5,534.2 551.6,543.5 551.9,520.3 552.6,540.4 552.6,528.0 553.1,543.5 553.2,517.2 553.6,529.6 553.6,542.0 554.1,518.7 554.6,531.1 554.6,529.6 554.7,545.1 555.4,518.7 555.6,523.4 555.6,540.4 556.3,543.5 556.4,520.3 556.6,521.8 556.6,532.7 556.8,543.5 557.2,520.3 557.6,531.1 557.6,529.6 558.4,545.1 558.6,518.7 558.6,535.8 558.8,520.3 559.6,542.0 559.6,528.0 559.9,545.1 560.1,526.5 560.6,538.9 560.6,520.3 561.2,545.1 561.6,526.5 561.6,517.2 562.2,543.5 562.6,531.1 562.6,538.9 562.7,518.7 562.9,540.4 563.6,540.4 563.6,529.6 563.7,518.7 564.1,545.1 564.6,535.8 564.6,537.3 564.9,524.9 565.5,545.1 565.6,532.7 565.6,528.0 566.1,524.9 566.3,546.6 566.6,526.5 566.6,528.0 566.8,526.5 567.1,542.0 567.6,532.7 567.6,545.1 567.9,521.8 568.6,532.7 568.6,523.4 568.9,545.1 569.6,537.3 569.6,531.1 569.9,526.5 570.0,542.0 570.6,534.2 570.6,540.4 570.8,520.3 571.6,523.4 571.6,529.6 571.8,543.5 571.9,517.2 572.6,523.4 572.6,537.3 573.1,523.4 573.4,545.1 573.6,535.8 573.6,532.7 573.7,526.5 573.8,543.5 574.6,543.5 574.6,535.8 574.9,545.1 575.6,523.4 575.6,537.3 576.4,542.0 576.6,521.8 576.6,542.0 577.2,523.4 577.6,540.4 577.6,543.5 578.3,520.3 578.6,542.0 578.6,529.6 579.3,521.8 579.3,542.0 579.6,528.0 579.6,524.9 579.9,523.4 580.3,545.1 580.6,538.9 580.6,529.6 580.8,520.3 581.2,543.5 581.6,543.5 581.6,543.5 582.1,526.5 582.6,538.9 582.6,534.2 582.9,523.4 583.4,545.1 583.6,538.9 583.6,535.8 583.9,523.4 584.0,542.0 584.6,534.2 584.6,526.5 585.1,549.8 585.6,538.9 585.6,528.0 585.9,548.2 586.0,521.8 586.6,531.1 586.6,537.3 586.7,542.0 587.4,521.8 587.6,537.3 587.6,532.7 587.7,543.5 588.1,524.9 588.6,529.6 588.6,529.6 588.9,543.5 589.3,524.9 589.6,524.9 589.6,538.9 590.0,543.5 590.4,524.9 590.6,537.3 590.6,535.8 590.7,545.1 591.3,521.8 591.6,529.6 591.6,532.7 591.9,540.4 592.2,523.4 592.6,531.1 592.6,540.4 592.9,546.6 593.3,528.0 593.6,535.8 593.6,545.1 593.9,523.4 594.6,532.7 594.6,532.7 595.3,526.5 595.5,548.2 595.6,542.0 595.6,532.7 595.7,528.0 596.0,548.2 596.6,543.5 596.6,532.7 596.7,524.9 597.1,546.6 597.6,546.6 597.6,526.5 597.9,520.3 598.3,543.5 598.6,531.1 598.6,537.3 598.7,542.0 598.8,524.9 599.6,524.9 599.6,521.8 600.5,543.5 600.6,535.8 600.6,535.8 600.7,524.9 600.9,545.1 601.6,535.8 601.6,528.0 602.1,548.2 602.5,526.5 602.6,531.1 602.6,529.6 603.3,548.2 603.6,538.9 603.6,537.3 603.8,545.1 604.1,523.4 604.6,528.0 604.6,528.0 605.0,552.9 605.1,526.5 605.6,531.1 605.6,534.2 606.0,546.6 606.1,523.4 606.6,532.7 606.6,543.5 606.8,520.3 607.1,546.6 607.6,538.9 607.6,520.3 608.5,548.2 608.6,548.2 608.6,546.6 609.0,526.5 609.6,538.9 609.6,534.2 609.8,521.8 610.6,548.2 610.6,529.6 610.8,548.2 611.6,524.9 611.6,545.1 612.1,523.4 612.5,548.2 612.6,526.5 612.6,543.5 612.8,521.8 613.0,548.2 613.6,545.1 613.7,535.8 613.7,543.5 614.5,528.0 614.6,535.8 614.7,545.1 614.9,546.6 615.4,528.0 615.6,534.2 615.7,540.4 615.8,546.6 616.2,526.5 616.6,537.3 616.7,540.4 616.7,528.0 616.8,546.6 617.6,540.4 617.7,540.4 617.8,543.5 618.4,518.7 618.6,531.1 618.7,551.3 619.3,526.5 619.6,538.9 619.7,535.8 619.8,548.2 620.3,529.6 620.6,538.9 620.7,543.5 621.2,546.6 621.3,526.5 621.6,540.4 621.7,546.6 621.9,548.2 622.2,523.4 622.6,535.8 622.7,529.6 622.8,524.9 623.2,548.2 623.6,542.0 623.7,531.1 623.8,524.9 624.5,557.5 624.6,556.0 624.7,569.9 624.9,562.2 625.6,593.2 625.7,608.7 625.7,594.7 626.1,614.9 626.6,611.8 626.7,608.7 627.0,593.2 627.2,614.9 627.6,601.0 627.7,608.7 627.9,611.8 628.2,591.6 628.6,611.8 628.7,610.3 629.2,614.9 629.3,599.4 629.6,610.3 629.7,601.0 630.3,608.7 630.3,597.8 630.6,599.4 630.7,605.6 631.2,599.4 631.6,619.6 631.7,596.3 631.8,591.6 632.5,616.5 632.6,605.6 632.7,611.8 632.8,618.0 633.6,593.2 633.7,605.6 634.2,593.2 634.4,616.5 634.5,594.7 634.6,596.3 635.3,616.5 635.5,591.6 635.6,597.8 636.0,610.3 636.2,591.6 636.5,602.5 636.6,610.3 636.7,616.5 637.4,594.7 637.5,604.1 637.6,601.0 637.8,593.2 638.1,614.9 638.5,604.1 638.6,610.3 638.9,611.8 639.5,591.6 639.5,599.4 639.6,594.7 639.7,613.4 640.4,591.6 640.5,605.6 640.6,601.0 640.7,593.2 641.4,614.9 641.5,611.8 641.6,596.3 641.9,593.2 642.0,610.3 642.5,599.4 642.6,596.3 642.7,614.9 642.9,588.5 643.5,601.0 643.6,597.8 644.1,607.2 644.4,590.1 644.5,605.6 644.6,607.2 644.7,613.4 645.0,593.2 645.5,593.2 645.6,596.3 646.0,614.9 646.5,593.2 646.5,601.0 646.6,601.0 646.7,616.5 647.5,593.2 647.6,611.8 648.0,613.4 648.4,591.6 648.5,599.4 648.6,616.5 649.0,594.7 649.5,596.3 649.6,611.8 650.4,593.2 650.5,616.5 650.5,602.5 650.6,596.3 650.9,611.8 651.5,604.1 651.6,601.0 652.2,611.8 652.4,590.1 652.5,601.0 652.6,599.4 652.7,616.5 653.0,594.7 653.5,605.6 653.6,605.6 653.7,611.8 654.6,593.2 654.6,607.2 654.9,591.6 655.0,618.0 655.6,610.3 655.6,604.1 655.9,610.3 656.4,588.5 656.6,596.3 656.6,596.3 657.1,613.4 657.6,599.4 657.6,607.2 657.8,593.2 658.2,613.4 658.6,607.2 658.6,593.2 658.7,611.8 659.6,611.8 659.6,605.6 659.9,613.4 660.4,593.2 660.6,605.6 660.6,594.7 661.6,614.9 661.6,608.7 662.4,593.2 662.6,619.6 662.6,605.6 662.7,616.5 662.7,591.6 663.6,601.0 663.6,597.8 664.1,593.2 664.2,613.4 664.6,604.1 664.6,601.0 665.0,613.4 665.4,593.2 665.6,597.8 665.6,610.3 665.8,611.8 666.4,594.7 666.6,599.4 666.6,596.3 666.9,590.1 667.1,613.4 667.6,596.3 667.6,601.0 668.0,611.8 668.4,593.2 668.6,610.3 668.6,593.2 668.8,618.0 669.6,597.8 669.6,602.5 670.3,591.6 670.4,614.9 670.6,608.7 670.6,594.7 671.6,616.5 671.6,611.8 672.0,614.9 672.2,593.2 672.6,610.3 672.6,608.7 672.7,591.6 673.2,614.9 673.6,608.7 673.6,610.3 673.8,593.2 674.6,604.1 674.6,610.3 674.9,614.9 675.0,593.2 675.6,608.7 675.6,593.2 675.8,588.5 676.4,611.8 676.6,611.8 676.6,596.3 676.8,593.2 677.3,611.8 677.6,605.6 677.6,596.3 677.9,610.3 677.9,594.7 678.6,596.3 678.6,597.8 678.8,591.6 678.9,610.3 679.6,599.4 679.6,608.7 680.3,594.7 680.3,618.0 680.6,605.6 680.6,597.8 680.8,610.3 681.1,594.7 681.6,601.0 681.6,599.4 681.9,596.3 682.1,613.4 682.6,597.8 682.6,594.7 682.9,614.9 683.6,601.0 683.6,597.8 684.1,613.4 684.4,590.1 684.6,601.0 684.6,614.9 685.1,594.7 685.5,616.5 685.6,602.5 685.6,607.2 686.0,611.8 686.4,596.3 686.6,611.8 686.6,602.5 686.8,613.4 687.1,594.7 687.6,607.2 687.6,613.4 687.8,594.7 688.6,613.4 688.6,590.1 689.4,614.9 689.6,611.8 689.6,608.7 690.1,614.9 690.4,591.6 690.6,596.3 690.6,608.7 690.7,614.9 691.1,591.6 691.6,597.8 691.6,604.1 691.8,613.4 691.8,591.6 692.6,602.5 692.6,601.0 693.1,591.6 693.3,618.0 693.6,613.4 693.6,611.8 694.0,591.6 694.2,614.9 694.6,594.7 694.6,607.2 694.7,590.1 695.6,614.9 695.6,597.8 695.8,613.4 696.2,593.2 696.6,608.7 696.6,610.3 697.1,614.9 697.5,594.7 697.6,594.7 697.6,608.7 698.3,591.6 698.3,613.4 698.6,599.4 698.6,602.5 699.1,593.2 699.6,614.9 699.6,604.1 700.1,591.6 700.1,613.4 700.6,605.6 700.6,599.4 700.8,616.5 701.3,591.6 701.6,605.6 701.6,607.2 702.1,596.3 702.4,614.9 702.6,605.6 702.6,597.8 703.5,614.9 703.5,593.2 703.6,599.4 703.6,596.3 704.0,614.9 704.1,593.2 704.6,610.3 704.6,596.3 704.8,591.6 705.3,616.5 705.6,596.3 705.6,597.8 705.8,611.8 706.1,591.6 706.6,602.5 706.6,604.1 706.7,594.7 707.3,611.8 707.6,604.1 707.6,602.5 707.8,614.9 708.1,593.2 708.6,607.2 708.6,610.3 708.8,593.2 709.0,614.9 709.6,602.5 709.6,607.2 710.3,588.5 710.4,613.4 710.6,611.8 710.6,605.6 711.0,613.4 711.6,593.2 711.6,601.0 712.5,608.7 712.5,594.7 712.6,608.7 712.6,601.0 713.1,593.2 713.5,616.5 713.6,599.4 713.6,593.2 713.8,614.9 714.3,591.6 714.6,614.9 714.6,599.4 714.8,611.8 715.3,594.7 715.6,597.8 715.7,602.5 716.0,613.4 716.3,591.6 716.6,604.1 716.7,618.0 717.4,591.6 717.6,597.8 717.7,601.0 718.1,591.6 718.4,614.9 718.6,602.5 718.7,602.5 719.1,590.1 719.6,618.0 719.7,597.8 719.9,591.6 720.6,614.9 720.7,611.8 721.5,591.6 721.6,608.7 721.7,607.2 721.9,594.7 722.6,619.6 722.7,604.1 722.7,593.2 723.5,614.9 723.6,611.8 723.7,596.3 723.8,611.8 724.2,594.7 724.6,605.6 724.7,593.2 725.0,618.0 725.6,610.3 725.7,594.7 726.1,590.1 726.3,616.5 726.6,601.0 726.7,607.2 726.8,593.2 727.0,616.5 727.6,601.0 727.7,607.2 727.8,593.2 727.9,608.7 728.6,605.6 728.7,593.2 729.1,613.4 729.6,601.0 729.7,607.2 729.9,610.3 730.2,588.5 730.6,601.0 730.7,605.6 730.7,614.9 730.8,599.4 731.6,610.3 731.7,599.4 731.7,613.4 732.5,590.1 732.6,599.4 732.7,608.7 732.7,593.2 733.3,613.4 733.6,601.0 733.7,604.1 733.8,613.4 734.3,590.1 734.6,597.8 734.7,588.5 735.1,616.5 735.5,611.8 735.6,601.0 736.2,613.4 736.4,590.1 736.5,599.4 736.6,605.6 736.7,594.7 736.8,608.7 737.5,602.5 737.6,604.1 737.9,613.4 738.1,593.2 738.5,611.8 738.6,602.5 738.9,597.8 739.0,614.9 739.5,611.8 739.6,608.7 739.7,593.2 740.1,616.5 740.5,594.7 740.6,604.1 740.7,593.2 741.1,611.8 741.5,594.7 741.6,605.6 742.1,610.3 742.3,594.7 742.5,601.0 742.6,599.4 742.9,610.3 743.5,591.6 743.5,597.8 743.6,610.3 743.7,593.2 744.0,611.8 744.5,597.8 744.6,608.7 745.2,588.5 745.5,610.3 745.5,608.7 745.6,605.6 746.1,591.6 746.4,614.9 746.5,601.0 746.6,605.6 746.9,614.9 747.3,593.2 747.5,611.8 747.6,608.7 747.8,591.6 748.5,613.4 748.5,611.8 748.6,610.3 748.8,614.9 748.9,593.2 749.5,593.2 749.6,611.8 749.9,591.6 750.2,613.4 750.5,610.3 750.6,605.6 751.1,591.6 751.5,613.4 751.5,599.4 751.6,604.1 752.2,591.6 752.3,616.5 752.5,607.2 752.6,604.1 752.8,590.1 752.9,616.5 753.5,610.3 753.6,608.7 754.0,593.2 754.5,605.6 754.6,607.2 754.7,596.3 755.0,611.8 755.6,607.2 755.6,596.3 756.1,613.4 756.3,591.6 756.6,608.7 756.6,613.4 757.1,588.5 757.6,607.2 757.6,594.7 758.1,613.4 758.6,602.5 758.6,597.8 758.7,613.4 758.9,588.5 759.6,605.6 759.6,608.7 760.5,613.4 760.6,585.4 760.6,593.2 760.8,613.4 761.6,611.8 761.6,597.8 761.7,610.3 762.5,591.6 762.6,602.5 762.6,599.4 762.9,614.9 763.5,593.2 763.6,593.2 763.6,599.4 764.4,614.9 764.6,593.2 764.6,610.3 765.0,614.9 765.1,593.2 765.6,610.3 765.6,608.7 766.1,613.4 766.3,593.2 766.6,605.6 766.6,605.6 766.8,614.9 766.9,591.6 767.6,602.5 767.6,593.2 767.7,611.8 768.6,596.3 768.6,594.7 768.7,614.9 769.3,590.1 769.6,611.8 769.6,607.2 769.7,593.2 769.7,616.5 770.6,604.1 770.6,611.8 771.1,594.7 771.6,607.2 771.6,605.6 771.7,608.7 772.1,591.6 772.6,602.5 772.6,604.1 772.7,593.2 773.2,616.5 773.6,610.3 773.6,604.1 773.9,613.4 774.0,591.6 774.6,596.3 774.6,593.2 774.8,616.5 775.1,590.1 775.6,601.0 775.6,596.3 775.7,594.7 776.1,611.8 776.6,607.2 776.6,613.4 776.8,614.9 777.0,594.7 777.6,604.1 777.6,597.8 777.7,611.8 777.8,593.2 778.6,604.1 778.6,601.0 778.9,590.1 778.9,614.9 779.6,593.2 779.6,599.4 779.7,590.1 779.8,616.5 780.6,591.6 780.6,607.2 780.7,588.5 780.9,616.5 781.6,608.7 781.6,613.4 782.1,590.1 782.6,602.5 782.6,614.9 783.4,588.5 783.6,604.1 783.6,597.8 784.3,613.4 784.6,593.2 784.6,610.3 784.8,613.4 785.0,596.3 785.6,597.8 785.6,602.5 785.9,588.5 786.0,614.9 786.6,597.8 786.6,610.3 786.9,613.4 787.1,593.2 787.6,604.1 787.6,605.6 787.8,614.9 788.4,593.2 788.6,611.8 788.6,608.7 788.7,593.2 788.8,616.5 789.6,610.3 789.6,608.7 790.1,614.9 790.2,594.7 790.6,608.7 790.6,594.7 790.8,610.3 791.1,593.2 791.6,605.6 791.6,602.5 791.8,591.6 792.2,613.4 792.6,602.5 792.6,611.8 793.0,591.6 793.3,616.5 793.6,616.5 793.6,604.1 794.2,591.6 794.4,614.9 794.6,594.7 794.6,596.3 795.4,614.9 795.6,610.3 795.6,610.3 795.9,596.3 796.4,614.9 796.6,599.4 796.6,602.5 796.8,614.9 797.2,594.7 797.6,602.5 797.6,610.3 798.3,593.2 798.4,614.9 798.6,605.6 798.6,596.3 799.3,614.9 799.6,602.5 799.6,614.9 799.8,590.1 800.6,607.2 800.6,602.5 800.8,593.2 801.3,608.7 801.6,596.3 801.6,599.4 802.1,588.5 802.6,614.9 802.6,593.2 803.3,613.4 803.6,593.2 803.6,599.4 803.8,614.9 804.4,594.7 804.6,605.6 804.6,593.2 805.3,613.4 805.6,599.4 805.6,611.8 805.7,613.4 806.0,591.6 806.6,594.7 806.6,591.6 807.6,614.9 807.6,605.6 807.9,613.4 808.6,588.5 808.6,608.7 809.0,614.9 809.3,593.2 809.6,610.3 809.6,602.5 809.9,614.9 810.0,594.7 810.6,605.6 810.6,610.3 810.8,594.7 811.3,616.5 811.6,607.2 811.6,605.6 811.8,594.7 812.5,613.4 812.6,597.8 812.6,599.4 813.0,614.9 813.4,590.1 813.6,614.9 813.6,597.8 813.8,594.7 814.6,610.3 814.6,611.8 814.8,593.2 815.5,616.5 815.6,616.5 815.6,607.2 816.1,613.4 816.1,591.6 816.6,599.4 816.7,591.6 816.9,610.3 817.6,596.3 817.7,604.1 818.0,588.5 818.1,610.3 818.6,591.6 818.7,604.1 819.1,591.6 819.4,611.8 819.6,593.2 819.7,611.8 820.2,613.4 820.3,594.7 820.6,602.5 820.7,597.8 820.9,616.5 821.0,590.1 821.6,611.8 821.7,596.3 821.7,588.5 821.9,610.3 822.6,604.1 822.7,601.0 822.8,611.8 823.0,593.2 823.6,596.3 823.7,611.8 824.3,587.0 824.6,596.3 824.7,613.4 825.2,594.7 825.6,604.1 825.7,599.4 825.8,594.7 826.5,614.9 826.6,607.2 826.7,605.6 827.0,591.6 827.3,614.9 827.6,610.3 827.7,604.1 828.1,616.5 828.3,588.5 828.6,614.9 828.7,604.1 828.9,593.2 829.6,613.4 829.7,602.5 829.8,593.2 830.4,613.4 830.6,607.2 830.7,590.1 831.0,613.4 831.6,596.3 831.7,610.3 831.8,613.4 832.5,591.6 832.6,604.1 832.7,607.2 833.4,591.6 833.5,614.9 833.6,599.4 833.7,607.2 833.9,596.3 834.0,614.9 834.6,601.0 834.7,610.3 835.2,614.9 835.2,591.6 835.6,613.4 835.7,602.5 836.2,616.5 836.3,594.7 836.5,605.6 836.6,607.2 836.9,596.3 837.5,616.5 837.5,601.0 837.6,611.8 837.7,593.2 838.2,614.9 838.5,599.4 838.6,608.7 838.9,590.1 838.9,611.8 839.5,599.4 839.6,601.0 840.1,594.7 840.5,614.9 840.6,594.7 841.0,614.9 841.5,593.2 841.5,602.5 841.6,611.8 841.9,596.3 842.4,613.4 842.5,597.8 842.6,599.4 843.2,611.8 843.5,593.2 843.5,594.7 843.6,614.9 843.8,594.7 844.5,597.8 844.6,610.3 844.9,591.6 845.5,614.9 845.5,594.7 845.6,597.8 846.0,591.6 846.3,613.4 846.5,593.2 846.6,602.5 846.7,610.3 847.5,591.6 847.6,596.3 847.9,593.2 848.2,610.3 848.5,605.6 848.6,608.7 848.9,614.9 848.9,593.2 849.5,608.7 849.6,593.2 850.0,618.0 850.5,596.3 850.6,610.3 850.7,614.9 851.3,593.2 851.5,597.8 851.6,594.7 852.2,619.6 852.5,605.6 852.6,610.3 852.7,613.4 853.5,591.6 853.6,599.4 853.9,614.9 854.5,597.8 854.6,599.4 854.7,594.7 855.5,614.9 855.5,604.1 855.6,593.2 856.4,613.4 856.5,591.6 856.5,593.2 856.6,601.0 856.7,611.8 857.5,594.7 857.6,610.3 857.6,599.4 857.7,590.1 858.1,613.4 858.6,596.3 858.6,607.2 859.2,588.5 859.6,619.6 859.6,607.2 859.7,613.4 859.9,593.2 860.6,596.3 860.6,611.8 860.9,613.4 861.5,588.5 861.6,602.5 861.6,597.8 861.7,611.8 862.5,593.2 862.6,593.2 862.6,591.6 863.1,611.8 863.6,593.2 863.6,599.4 863.7,610.3 863.9,593.2 864.6,601.0 864.6,596.3 864.7,611.8 864.8,590.1 865.6,605.6 865.6,610.3 865.8,614.9 866.6,594.7 866.6,594.7 866.7,611.8 867.0,587.0 867.6,602.5 867.6,602.5 868.2,596.3 868.5,616.5 868.6,605.6 868.6,591.6 868.9,611.8 869.6,605.6 869.6,602.5 869.7,614.9 870.3,593.2 870.6,604.1 870.6,611.8 871.1,596.3 871.4,613.4 871.6,607.2 871.6,616.5 872.2,591.6 872.6,610.3 872.6,596.3 872.9,610.3 873.4,591.6 873.6,602.5 873.6,608.7 873.9,611.8 874.2,590.1 874.6,611.8 874.6,602.5 875.1,618.0 875.4,593.2 875.6,599.4 875.6,604.1 875.7,611.8 876.4,596.3 876.6,599.4 876.6,613.4 877.0,593.2"/>
</g>
<rect x="91.0" y="42.3" width="823.7" height="614.6" fill="none" stroke="#000" stroke-width="1.85" stroke-linejoin="miter"/>
<g stroke="#000" stroke-width="1.85">
<path d="M235.0 656.9v8.07"/>
<path d="M384.5 656.9v8.07"/>
<path d="M534.0 656.9v8.07"/>
<path d="M683.6 656.9v8.07"/>
<path d="M833.1 656.9v8.07"/>
<path d="M91.0 610.3h-8.07"/>
<path d="M91.0 513.3h-8.07"/>
<path d="M91.0 416.3h-8.07"/>
<path d="M91.0 319.4h-8.07"/>
<path d="M91.0 222.4h-8.07"/>
<path d="M91.0 125.4h-8.07"/>
</g>
<g font-family="'DejaVu Sans', 'Liberation Sans', sans-serif" font-size="23.06px" fill="#000">
<text x="235.0" y="690.6" text-anchor="middle">0</text>
<text x="384.5" y="690.6" text-anchor="middle">2</text>
<text x="534.0" y="690.6" text-anchor="middle">4</text>
<text x="683.6" y="690.6" text-anchor="middle">6</text>
<text x="833.1" y="690.6" text-anchor="middle">8</text>
<text x="73.4" y="619.8" text-anchor="end">0.0</text>
<text x="73.4" y="522.8" text-anchor="end">0.5</text>
<text x="73.4" y="425.8" text-anchor="end">1.0</text>
<text x="73.4" y="328.9" text-anchor="end">1.5</text>
<text x="73.4" y="231.9" text-anchor="end">2.0</text>
<text x="73.4" y="134.9" text-anchor="end">2.5</text>
<text x="502.6" y="724.2" text-anchor="middle">Time (s)</text>
<text x="914.2" y="721.3" text-anchor="end" letter-spacing="-0.2">1e−6</text>
<text transform="translate(21.6 433.4) rotate(-90)" textLength="165.6" lengthAdjust="spacing">Amplitude (V)</text>
<text x="500.9" y="26.1" text-anchor="middle" font-size="27.68px" xml:space="preserve">Thickness: 45<tspan font-style="italic">μ</tspan>m  , Polarization: 200V</text>
</g>
<rect x="711.5" y="53.9" width="192.2" height="133.2" rx="4.6" fill="#fff" fill-opacity="0.8" stroke="#ccc" stroke-opacity="0.8" stroke-width="1.85"/>
<g stroke-width="3.46" stroke-linecap="square">
<path stroke="#0000ff" d="M720.8 79.5H766.9"/>
<path stroke="#ffa500" d="M720.8 121.3H766.9"/>
<path stroke="#800080" d="M720.8 164.3H766.9"/>
</g>
<g font-family="'DejaVu Sans', 'Liberation Sans', sans-serif" font-size="23.06px" fill="#000">
<text x="785.4" y="86.4">2<tspan font-style="italic" dx="-1.1">mm</tspan><tspan font-size="17.2px" dx="-0.3" dy="-8.1">2</tspan></text>
<text x="785.4" y="127.9">1<tspan font-style="italic" dx="-1.1">mm</tspan><tspan font-size="17.2px" dx="-0.3" dy="-8.1">2</tspan></text>
<text x="785.4" y="170.8">0.25<tspan font-style="italic" dx="-1.1">mm</tspan><tspan font-size="17.2px" dx="-0.3" dy="-8.1">2</tspan></text>
</g>
</svg>
</body></html>
